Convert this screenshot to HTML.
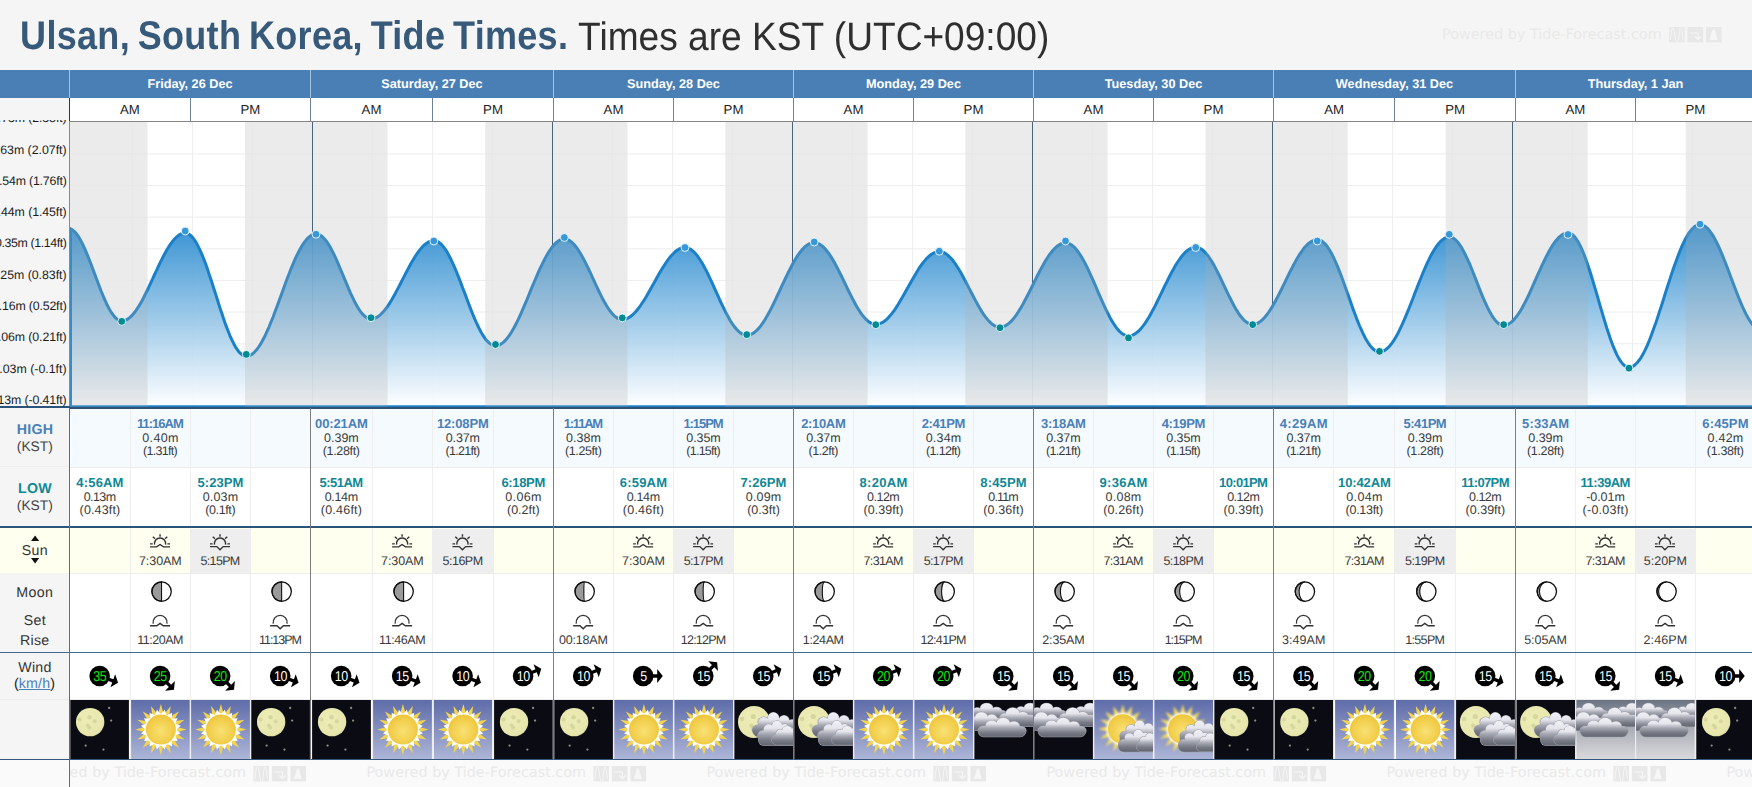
<!DOCTYPE html>
<html lang="en"><head><meta charset="utf-8"><title>Ulsan, South Korea, Tide Times</title><meta name="viewport" content="width=1752"><style>
html,body{margin:0;padding:0}
body{background:#f5f5f5;font-family:"Liberation Sans",Arial,sans-serif;overflow:hidden;text-rendering:geometricPrecision;-webkit-font-smoothing:antialiased}
#page{position:relative;width:1752px;height:787px;overflow:hidden;background:#f5f5f5}
.b{position:absolute}
.t{position:absolute;white-space:nowrap;margin:0}
.wm{font-family:"DejaVu Sans","Liberation Sans",sans-serif}
a{color:#4a80b8;text-decoration:underline}
</style></head><body><div id="page">
<div class="b" style="left:0px;top:70px;width:1752px;height:28px;background:#4a7fb5;"></div>
<div class="b" style="left:69px;top:70px;width:1px;height:28px;background:#a9c3dd;"></div>
<div class="b" style="left:310px;top:70px;width:1px;height:28px;background:#a9c3dd;"></div>
<div class="b" style="left:553px;top:70px;width:1px;height:28px;background:#a9c3dd;"></div>
<div class="b" style="left:793px;top:70px;width:1px;height:28px;background:#a9c3dd;"></div>
<div class="b" style="left:1033px;top:70px;width:1px;height:28px;background:#a9c3dd;"></div>
<div class="b" style="left:1273px;top:70px;width:1px;height:28px;background:#a9c3dd;"></div>
<div class="b" style="left:1515px;top:70px;width:1px;height:28px;background:#a9c3dd;"></div>
<div class="b" style="left:1755px;top:70px;width:1px;height:28px;background:#a9c3dd;"></div>
<div class="b" style="left:70px;top:98px;width:1682px;height:23px;background:#fff;"></div>
<div class="b" style="left:69px;top:98px;width:1px;height:23px;background:#1d3a57;"></div>
<div class="b" style="left:190px;top:98px;width:1px;height:23px;background:#6e8297;"></div>
<div class="b" style="left:310px;top:98px;width:1px;height:23px;background:#6e8297;"></div>
<div class="b" style="left:432px;top:98px;width:1px;height:23px;background:#6e8297;"></div>
<div class="b" style="left:553px;top:98px;width:1px;height:23px;background:#6e8297;"></div>
<div class="b" style="left:673px;top:98px;width:1px;height:23px;background:#6e8297;"></div>
<div class="b" style="left:793px;top:98px;width:1px;height:23px;background:#6e8297;"></div>
<div class="b" style="left:913px;top:98px;width:1px;height:23px;background:#6e8297;"></div>
<div class="b" style="left:1033px;top:98px;width:1px;height:23px;background:#6e8297;"></div>
<div class="b" style="left:1153px;top:98px;width:1px;height:23px;background:#6e8297;"></div>
<div class="b" style="left:1273px;top:98px;width:1px;height:23px;background:#6e8297;"></div>
<div class="b" style="left:1394px;top:98px;width:1px;height:23px;background:#6e8297;"></div>
<div class="b" style="left:1515px;top:98px;width:1px;height:23px;background:#6e8297;"></div>
<div class="b" style="left:1635px;top:98px;width:1px;height:23px;background:#6e8297;"></div>
<div class="b" style="left:70px;top:121px;width:1682px;height:1px;background:#858585;"></div>
<div class="b" style="left:70px;top:122px;width:1682px;height:285px;background:#fff;"></div>
<div class="b" style="left:69px;top:121px;width:1px;height:286px;background:#8a8a8a;"></div>
<div class="b" style="left:70px;top:408px;width:1682px;height:59px;background:#f5faff;"></div>
<div class="b" style="left:70px;top:467px;width:1682px;height:59px;background:#fff;"></div>
<div class="b" style="left:0px;top:527px;width:1752px;height:46px;background:#fffff0;"></div>
<div class="b" style="left:70px;top:573px;width:1682px;height:79px;background:#fff;"></div>
<div class="b" style="left:70px;top:653px;width:1682px;height:106px;background:#fff;"></div>
<div class="b" style="left:0px;top:760px;width:1752px;height:27px;background:#fafafa;"></div>
<div class="b" style="left:191px;top:529px;width:59px;height:44px;background:#eeeeee;"></div>
<div class="b" style="left:433px;top:529px;width:60px;height:44px;background:#eeeeee;"></div>
<div class="b" style="left:674px;top:529px;width:59px;height:44px;background:#eeeeee;"></div>
<div class="b" style="left:914px;top:529px;width:59px;height:44px;background:#eeeeee;"></div>
<div class="b" style="left:1154px;top:529px;width:59px;height:44px;background:#eeeeee;"></div>
<div class="b" style="left:1395px;top:529px;width:60px;height:44px;background:#eeeeee;"></div>
<div class="b" style="left:1636px;top:529px;width:59px;height:44px;background:#eeeeee;"></div>
<div class="b" style="left:70px;top:467px;width:1682px;height:1px;background:#ececec;"></div>
<div class="b" style="left:0px;top:466px;width:69px;height:1px;background:#ededed;"></div>
<div class="b" style="left:70px;top:573px;width:1682px;height:1px;background:#ececec;"></div>
<div class="b" style="left:0px;top:699px;width:1752px;height:1px;background:#ececec;"></div>
<div class="b" style="left:130px;top:408px;width:1px;height:352px;background:#eeeeee;"></div>
<div class="b" style="left:190px;top:408px;width:1px;height:352px;background:#eeeeee;"></div>
<div class="b" style="left:250px;top:408px;width:1px;height:352px;background:#eeeeee;"></div>
<div class="b" style="left:372px;top:408px;width:1px;height:352px;background:#eeeeee;"></div>
<div class="b" style="left:432px;top:408px;width:1px;height:352px;background:#eeeeee;"></div>
<div class="b" style="left:493px;top:408px;width:1px;height:352px;background:#eeeeee;"></div>
<div class="b" style="left:613px;top:408px;width:1px;height:352px;background:#eeeeee;"></div>
<div class="b" style="left:673px;top:408px;width:1px;height:352px;background:#eeeeee;"></div>
<div class="b" style="left:733px;top:408px;width:1px;height:352px;background:#eeeeee;"></div>
<div class="b" style="left:853px;top:408px;width:1px;height:352px;background:#eeeeee;"></div>
<div class="b" style="left:913px;top:408px;width:1px;height:352px;background:#eeeeee;"></div>
<div class="b" style="left:973px;top:408px;width:1px;height:352px;background:#eeeeee;"></div>
<div class="b" style="left:1093px;top:408px;width:1px;height:352px;background:#eeeeee;"></div>
<div class="b" style="left:1153px;top:408px;width:1px;height:352px;background:#eeeeee;"></div>
<div class="b" style="left:1213px;top:408px;width:1px;height:352px;background:#eeeeee;"></div>
<div class="b" style="left:1333px;top:408px;width:1px;height:352px;background:#eeeeee;"></div>
<div class="b" style="left:1394px;top:408px;width:1px;height:352px;background:#eeeeee;"></div>
<div class="b" style="left:1455px;top:408px;width:1px;height:352px;background:#eeeeee;"></div>
<div class="b" style="left:1575px;top:408px;width:1px;height:352px;background:#eeeeee;"></div>
<div class="b" style="left:1635px;top:408px;width:1px;height:352px;background:#eeeeee;"></div>
<div class="b" style="left:1695px;top:408px;width:1px;height:352px;background:#eeeeee;"></div>
<div class="b" style="left:0px;top:406px;width:70px;height:2px;background:#2c5379;"></div>
<div class="b" style="left:70px;top:407px;width:1682px;height:2px;background:#2f5174;"></div>
<div class="b" style="left:0px;top:526px;width:1752px;height:1.5px;background:#2c5379;"></div>
<div class="b" style="left:0px;top:652px;width:1752px;height:1px;background:#416a91;"></div>
<div class="b" style="left:0px;top:759px;width:1752px;height:1px;background:#34587d;"></div>
<div class="b" style="left:69px;top:408px;width:1px;height:379px;background:#6b6b6b;"></div>
<div class="b" style="left:310px;top:408px;width:1px;height:352px;background:#7d7d7d;"></div>
<div class="b" style="left:553px;top:408px;width:1px;height:352px;background:#7d7d7d;"></div>
<div class="b" style="left:793px;top:408px;width:1px;height:352px;background:#7d7d7d;"></div>
<div class="b" style="left:1033px;top:408px;width:1px;height:352px;background:#7d7d7d;"></div>
<div class="b" style="left:1273px;top:408px;width:1px;height:352px;background:#7d7d7d;"></div>
<div class="b" style="left:1515px;top:408px;width:1px;height:352px;background:#7d7d7d;"></div>
<svg class="b" style="left:70px;top:122px" width="1682" height="286" viewBox="70 122 1682 286">
<defs><linearGradient id="tg" gradientUnits="userSpaceOnUse" x1="0" y1="226" x2="0" y2="407"><stop offset="0" stop-color="#2c8cd0" stop-opacity="0.94"/><stop offset="1" stop-color="#ffffff" stop-opacity="0.94"/></linearGradient><clipPath id="cc"><rect x="70" y="122" width="1682" height="286"/></clipPath></defs>
<g clip-path="url(#cc)">
<clipPath id="dc"><rect x="147.5" y="122" width="97.5" height="285"/><rect x="387.5" y="122" width="97.7" height="285"/><rect x="627.5" y="122" width="97.8" height="285"/><rect x="867.7" y="122" width="97.7" height="285"/><rect x="1107.7" y="122" width="97.8" height="285"/><rect x="1347.7" y="122" width="98.0" height="285"/><rect x="1587.7" y="122" width="98.2" height="285"/></clipPath>
<path d="M70 153.90H1752M70 185.53H1752M70 217.16H1752M70 248.79H1752M70 280.42H1752M70 312.05H1752M70 343.68H1752M70 375.31H1752M132.50 122V407M192.50 122V407M252.50 122V407M372.50 122V407M432.50 122V407M492.50 122V407M612.50 122V407M672.50 122V407M732.50 122V407M852.50 122V407M912.50 122V407M972.50 122V407M1092.50 122V407M1152.50 122V407M1212.50 122V407M1332.50 122V407M1392.50 122V407M1452.50 122V407M1572.50 122V407M1632.50 122V407M1692.50 122V407" stroke="#fbfbfb" stroke-width="1" fill="none"/>
<path clip-path="url(#dc)" d="M70 153.90H1752M70 185.53H1752M70 217.16H1752M70 248.79H1752M70 280.42H1752M70 312.05H1752M70 343.68H1752M70 375.31H1752M132.50 122V407M192.50 122V407M252.50 122V407M372.50 122V407M432.50 122V407M492.50 122V407M612.50 122V407M672.50 122V407M732.50 122V407M852.50 122V407M912.50 122V407M972.50 122V407M1092.50 122V407M1152.50 122V407M1212.50 122V407M1332.50 122V407M1392.50 122V407M1452.50 122V407M1572.50 122V407M1632.50 122V407M1692.50 122V407" stroke="#eeeeee" stroke-width="1" fill="none"/>
<path d="M312.50 122V407M552.50 122V407M792.50 122V407M1032.50 122V407M1272.50 122V407M1512.50 122V407" stroke="#2b4a6c" stroke-width="1" fill="none"/>
<path d="M68.0 228.3L70.1 228.6L72.1 229.6L74.2 231.3L76.3 233.6L78.4 236.5L80.4 239.9L82.5 243.9L84.6 248.3L86.6 253.1L88.7 258.2L90.8 263.5L92.8 269.0L94.9 274.6L97.0 280.2L99.1 285.7L101.1 291.0L103.2 296.1L105.3 300.9L107.3 305.3L109.4 309.3L111.5 312.7L113.6 315.6L115.6 317.9L117.7 319.6L119.8 320.6L121.8 320.9L123.9 320.7L125.9 320.0L128.0 318.9L130.0 317.3L132.0 315.4L134.1 313.0L136.1 310.3L138.2 307.2L140.2 303.9L142.3 300.2L144.3 296.3L146.3 292.2L148.4 288.0L150.4 283.6L152.5 279.2L154.5 274.7L156.6 270.3L158.6 265.9L160.7 261.7L162.7 257.6L164.7 253.7L166.8 250.0L168.8 246.7L170.9 243.6L172.9 240.9L175.0 238.5L177.0 236.6L179.0 235.0L181.1 233.9L183.1 233.2L185.2 233.0L187.2 233.3L189.2 234.3L191.3 236.0L193.3 238.3L195.4 241.3L197.4 244.8L199.4 248.8L201.5 253.4L203.5 258.4L205.6 263.8L207.6 269.5L209.6 275.6L211.7 281.8L213.7 288.2L215.8 294.6L217.8 301.0L219.8 307.4L221.9 313.6L223.9 319.7L225.9 325.4L228.0 330.8L230.0 335.8L232.1 340.4L234.1 344.4L236.1 347.9L238.2 350.9L240.2 353.2L242.3 354.9L244.3 355.9L246.3 356.2L248.4 355.9L250.4 355.2L252.5 353.9L254.5 352.1L256.6 349.8L258.6 347.0L260.7 343.9L262.7 340.2L264.8 336.3L266.8 331.9L268.9 327.3L270.9 322.3L273.0 317.2L275.0 311.8L277.1 306.3L279.1 300.7L281.2 295.1L283.2 289.4L285.3 283.8L287.3 278.3L289.4 273.0L291.4 267.8L293.5 262.9L295.5 258.2L297.6 253.9L299.6 249.9L301.7 246.3L303.7 243.1L305.8 240.4L307.8 238.1L309.9 236.3L311.9 235.0L314.0 234.2L316.0 233.9L318.0 234.2L320.1 235.1L322.1 236.5L324.1 238.5L326.2 240.9L328.2 243.9L330.3 247.3L332.3 251.1L334.3 255.2L336.4 259.6L338.4 264.3L340.4 269.1L342.5 274.0L344.5 278.9L346.6 283.8L348.6 288.6L350.6 293.3L352.7 297.7L354.7 301.8L356.7 305.6L358.8 309.0L360.8 312.0L362.9 314.4L364.9 316.4L366.9 317.8L369.0 318.7L371.0 318.9L373.0 318.7L375.1 318.1L377.1 317.2L379.1 315.8L381.1 314.0L383.2 311.9L385.2 309.5L387.2 306.8L389.2 303.8L391.3 300.5L393.3 297.0L395.3 293.4L397.3 289.6L399.4 285.7L401.4 281.8L403.4 277.8L405.5 273.8L407.5 270.0L409.5 266.2L411.5 262.5L413.6 259.1L415.6 255.8L417.6 252.8L419.6 250.1L421.7 247.6L423.7 245.5L425.7 243.8L427.8 242.4L429.8 241.4L431.8 240.8L433.8 240.6L435.9 240.9L437.9 241.7L440.0 243.2L442.1 245.1L444.1 247.6L446.2 250.6L448.2 254.1L450.3 258.0L452.3 262.3L454.4 266.9L456.4 271.8L458.5 276.9L460.6 282.2L462.6 287.7L464.7 293.1L466.7 298.6L468.8 304.1L470.8 309.4L472.9 314.5L474.9 319.4L477.0 324.0L479.1 328.3L481.1 332.2L483.2 335.7L485.2 338.7L487.3 341.2L489.3 343.1L491.4 344.6L493.4 345.4L495.5 345.7L497.5 345.5L499.5 344.8L501.6 343.7L503.6 342.1L505.6 340.1L507.6 337.7L509.7 334.9L511.7 331.8L513.7 328.3L515.7 324.5L517.8 320.4L519.8 316.1L521.8 311.6L523.8 306.9L525.9 302.2L527.9 297.3L529.9 292.4L531.9 287.4L534.0 282.5L536.0 277.8L538.0 273.1L540.0 268.6L542.1 264.3L544.1 260.2L546.1 256.4L548.1 252.9L550.2 249.8L552.2 247.0L554.2 244.6L556.2 242.6L558.3 241.0L560.3 239.9L562.3 239.2L564.3 239.0L566.3 239.2L568.3 239.9L570.3 241.1L572.3 242.7L574.3 244.8L576.3 247.2L578.3 250.0L580.3 253.2L582.3 256.7L584.3 260.4L586.3 264.4L588.3 268.5L590.3 272.7L592.3 277.1L594.3 281.4L596.3 285.8L598.3 290.0L600.3 294.1L602.3 298.1L604.3 301.8L606.3 305.3L608.3 308.5L610.3 311.3L612.3 313.7L614.3 315.8L616.3 317.4L618.3 318.6L620.3 319.3L622.3 319.5L624.4 319.3L626.4 318.8L628.4 317.8L630.4 316.6L632.4 315.0L634.5 313.0L636.5 310.8L638.5 308.3L640.5 305.5L642.5 302.5L644.6 299.4L646.6 296.0L648.6 292.5L650.6 289.0L652.7 285.3L654.7 281.7L656.7 278.0L658.7 274.5L660.7 271.0L662.8 267.6L664.8 264.5L666.8 261.5L668.8 258.7L670.8 256.2L672.9 254.0L674.9 252.0L676.9 250.4L678.9 249.2L681.0 248.2L683.0 247.7L685.0 247.5L687.1 247.7L689.1 248.5L691.2 249.6L693.2 251.3L695.3 253.4L697.4 255.9L699.4 258.8L701.5 262.0L703.5 265.6L705.6 269.4L707.7 273.5L709.7 277.8L711.8 282.2L713.9 286.8L715.9 291.3L718.0 295.9L720.0 300.5L722.1 304.9L724.2 309.2L726.2 313.3L728.3 317.1L730.3 320.7L732.4 323.9L734.5 326.8L736.5 329.3L738.6 331.4L740.7 333.1L742.7 334.2L744.8 335.0L746.8 335.2L748.9 335.0L750.9 334.4L753.0 333.3L755.0 331.9L757.0 330.1L759.1 327.9L761.1 325.3L763.2 322.4L765.2 319.2L767.2 315.8L769.3 312.1L771.3 308.1L773.4 304.0L775.4 299.8L777.4 295.5L779.5 291.1L781.5 286.7L783.6 282.3L785.6 278.0L787.6 273.8L789.7 269.7L791.7 265.8L793.8 262.0L795.8 258.6L797.8 255.4L799.9 252.5L801.9 249.9L804.0 247.7L806.0 245.9L808.0 244.5L810.1 243.4L812.1 242.8L814.2 242.6L816.2 242.8L818.3 243.5L820.3 244.6L822.4 246.1L824.4 248.1L826.5 250.4L828.6 253.1L830.6 256.1L832.7 259.5L834.7 263.1L836.8 266.9L838.8 270.9L840.9 275.0L842.9 279.2L845.0 283.5L847.1 287.8L849.1 292.0L851.2 296.1L853.2 300.1L855.3 303.9L857.3 307.5L859.4 310.9L861.4 313.9L863.5 316.6L865.6 318.9L867.6 320.9L869.7 322.4L871.7 323.5L873.8 324.2L875.8 324.4L877.9 324.2L879.9 323.7L882.0 322.7L884.0 321.5L886.1 319.8L888.1 317.9L890.2 315.6L892.2 313.1L894.3 310.3L896.3 307.3L898.4 304.0L900.4 300.6L902.5 297.1L904.5 293.5L906.6 289.8L908.6 286.2L910.7 282.5L912.7 278.9L914.8 275.4L916.8 272.0L918.8 268.7L920.9 265.7L922.9 262.9L925.0 260.4L927.0 258.1L929.1 256.2L931.1 254.5L933.2 253.3L935.2 252.3L937.3 251.8L939.3 251.6L941.4 251.8L943.4 252.4L945.4 253.4L947.4 254.9L949.4 256.7L951.5 258.8L953.5 261.3L955.5 264.1L957.5 267.2L959.6 270.5L961.6 274.0L963.6 277.7L965.6 281.5L967.6 285.4L969.7 289.4L971.7 293.3L973.7 297.2L975.7 301.0L977.8 304.7L979.8 308.3L981.8 311.6L983.8 314.7L985.8 317.4L987.9 319.9L989.9 322.1L991.9 323.9L993.9 325.3L996.0 326.3L998.0 326.9L1000.0 327.1L1002.0 326.9L1004.1 326.3L1006.1 325.3L1008.2 323.9L1010.2 322.2L1012.3 320.1L1014.3 317.6L1016.4 314.8L1018.4 311.7L1020.5 308.4L1022.5 304.9L1024.6 301.1L1026.6 297.3L1028.7 293.2L1030.7 289.2L1032.8 285.0L1034.8 280.9L1036.8 276.8L1038.9 272.8L1040.9 268.9L1043.0 265.2L1045.0 261.6L1047.1 258.3L1049.1 255.2L1051.2 252.5L1053.2 250.0L1055.3 247.9L1057.3 246.1L1059.4 244.7L1061.4 243.7L1063.5 243.1L1065.5 242.9L1067.5 243.1L1069.6 243.9L1071.6 245.0L1073.6 246.7L1075.7 248.7L1077.7 251.2L1079.7 254.1L1081.8 257.4L1083.8 260.9L1085.8 264.8L1087.9 268.9L1089.9 273.3L1091.9 277.7L1094.0 282.4L1096.0 287.0L1098.0 291.8L1100.0 296.4L1102.1 301.1L1104.1 305.5L1106.1 309.9L1108.2 314.0L1110.2 317.9L1112.2 321.4L1114.3 324.7L1116.3 327.6L1118.3 330.1L1120.4 332.1L1122.4 333.8L1124.4 334.9L1126.5 335.7L1128.5 335.9L1130.5 335.7L1132.6 335.1L1134.6 334.1L1136.6 332.7L1138.7 331.0L1140.7 328.9L1142.7 326.4L1144.8 323.6L1146.8 320.6L1148.9 317.3L1150.9 313.7L1152.9 310.0L1155.0 306.1L1157.0 302.0L1159.0 297.9L1161.1 293.7L1163.1 289.4L1165.1 285.2L1167.2 281.1L1169.2 277.0L1171.2 273.1L1173.3 269.4L1175.3 265.8L1177.3 262.5L1179.4 259.5L1181.4 256.7L1183.5 254.2L1185.5 252.1L1187.5 250.4L1189.6 249.0L1191.6 248.0L1193.6 247.4L1195.7 247.2L1197.7 247.4L1199.7 248.2L1201.8 249.4L1203.8 251.0L1205.8 253.1L1207.9 255.6L1209.9 258.5L1212.0 261.7L1214.0 265.3L1216.0 269.1L1218.1 273.1L1220.1 277.2L1222.1 281.5L1224.2 285.8L1226.2 290.1L1228.2 294.4L1230.3 298.5L1232.3 302.5L1234.3 306.3L1236.4 309.9L1238.4 313.1L1240.5 316.0L1242.5 318.5L1244.5 320.6L1246.6 322.2L1248.6 323.4L1250.6 324.2L1252.7 324.4L1254.7 324.2L1256.7 323.6L1258.7 322.6L1260.8 321.2L1262.8 319.4L1264.8 317.3L1266.8 314.8L1268.8 312.0L1270.9 308.9L1272.9 305.6L1274.9 302.0L1276.9 298.3L1278.9 294.3L1281.0 290.3L1283.0 286.2L1285.0 282.1L1287.0 277.9L1289.0 273.8L1291.1 269.8L1293.1 265.8L1295.1 262.1L1297.1 258.5L1299.1 255.2L1301.2 252.1L1303.2 249.3L1305.2 246.8L1307.2 244.7L1309.2 242.9L1311.3 241.5L1313.3 240.5L1315.3 239.9L1317.3 239.7L1319.3 240.0L1321.3 240.8L1323.3 242.3L1325.4 244.2L1327.4 246.7L1329.4 249.8L1331.4 253.2L1333.4 257.1L1335.4 261.5L1337.4 266.1L1339.4 271.1L1341.4 276.3L1343.4 281.7L1345.4 287.3L1347.4 293.0L1349.4 298.6L1351.4 304.3L1353.4 309.9L1355.4 315.3L1357.4 320.5L1359.4 325.5L1361.5 330.1L1363.5 334.5L1365.5 338.4L1367.5 341.8L1369.5 344.9L1371.5 347.4L1373.5 349.3L1375.5 350.8L1377.5 351.6L1379.5 351.9L1381.6 351.7L1383.6 350.9L1385.7 349.7L1387.7 348.0L1389.8 345.9L1391.8 343.3L1393.9 340.3L1395.9 336.9L1398.0 333.2L1400.0 329.1L1402.1 324.7L1404.1 320.1L1406.2 315.2L1408.3 310.2L1410.3 305.0L1412.4 299.8L1414.4 294.4L1416.5 289.1L1418.5 283.9L1420.6 278.7L1422.6 273.7L1424.7 268.8L1426.7 264.2L1428.8 259.8L1430.8 255.7L1432.9 252.0L1435.0 248.6L1437.0 245.6L1439.1 243.0L1441.1 240.9L1443.2 239.2L1445.2 238.0L1447.3 237.2L1449.3 237.0L1451.3 237.3L1453.4 238.2L1455.4 239.7L1457.4 241.7L1459.4 244.3L1461.4 247.3L1463.4 250.9L1465.4 254.8L1467.4 259.1L1469.5 263.7L1471.5 268.5L1473.5 273.5L1475.5 278.6L1477.5 283.8L1479.5 288.9L1481.5 293.9L1483.5 298.7L1485.6 303.3L1487.6 307.6L1489.6 311.5L1491.6 315.1L1493.6 318.1L1495.6 320.7L1497.6 322.7L1499.6 324.2L1501.7 325.1L1503.7 325.4L1505.7 325.2L1507.7 324.5L1509.7 323.4L1511.7 321.9L1513.7 319.9L1515.7 317.6L1517.7 314.9L1519.8 311.9L1521.8 308.5L1523.8 304.8L1525.8 301.0L1527.8 296.8L1529.8 292.6L1531.8 288.2L1533.8 283.7L1535.8 279.1L1537.8 274.6L1539.9 270.1L1541.9 265.7L1543.9 261.5L1545.9 257.3L1547.9 253.5L1549.9 249.8L1551.9 246.4L1553.9 243.4L1555.9 240.7L1557.9 238.4L1560.0 236.4L1562.0 234.9L1564.0 233.8L1566.0 233.1L1568.0 232.9L1570.0 233.3L1572.1 234.4L1574.1 236.2L1576.1 238.7L1578.2 241.9L1580.2 245.7L1582.2 250.2L1584.3 255.2L1586.3 260.6L1588.3 266.5L1590.4 272.8L1592.4 279.4L1594.4 286.2L1596.5 293.1L1598.5 300.1L1600.5 307.2L1602.6 314.1L1604.6 320.9L1606.6 327.5L1608.7 333.8L1610.7 339.7L1612.7 345.1L1614.8 350.1L1616.8 354.6L1618.8 358.4L1620.9 361.6L1622.9 364.1L1624.9 365.9L1627.0 367.0L1629.0 367.4L1631.0 367.1L1633.1 366.3L1635.1 364.8L1637.1 362.8L1639.1 360.3L1641.2 357.3L1643.2 353.8L1645.2 349.8L1647.3 345.3L1649.3 340.5L1651.3 335.3L1653.3 329.8L1655.4 324.1L1657.4 318.1L1659.4 311.9L1661.5 305.6L1663.5 299.2L1665.5 292.8L1667.5 286.4L1669.6 280.1L1671.6 273.9L1673.6 267.9L1675.7 262.2L1677.7 256.7L1679.7 251.5L1681.7 246.7L1683.8 242.2L1685.8 238.2L1687.8 234.7L1689.9 231.7L1691.9 229.2L1693.9 227.2L1695.9 225.7L1698.0 224.9L1700.0 224.6L1702.0 224.9L1704.0 225.7L1706.0 227.0L1708.0 228.9L1710.0 231.3L1712.0 234.1L1714.0 237.4L1716.0 241.1L1718.0 245.1L1720.0 249.6L1722.0 254.2L1724.0 259.2L1726.0 264.3L1728.0 269.5L1730.0 274.9L1732.0 280.3L1734.0 285.6L1736.0 290.8L1738.0 296.0L1740.0 300.9L1742.0 305.6L1744.0 310.0L1746.0 314.1L1748.0 317.8L1750.0 321.0L1752.0 323.9L1754.0 326.2L1756.0 328.1L1758.0 329.5L1760.0 330.3L1762 407L60 407Z" fill="url(#tg)"/>
<path d="M68.0 228.3L70.1 228.6L72.1 229.6L74.2 231.3L76.3 233.6L78.4 236.5L80.4 239.9L82.5 243.9L84.6 248.3L86.6 253.1L88.7 258.2L90.8 263.5L92.8 269.0L94.9 274.6L97.0 280.2L99.1 285.7L101.1 291.0L103.2 296.1L105.3 300.9L107.3 305.3L109.4 309.3L111.5 312.7L113.6 315.6L115.6 317.9L117.7 319.6L119.8 320.6L121.8 320.9L123.9 320.7L125.9 320.0L128.0 318.9L130.0 317.3L132.0 315.4L134.1 313.0L136.1 310.3L138.2 307.2L140.2 303.9L142.3 300.2L144.3 296.3L146.3 292.2L148.4 288.0L150.4 283.6L152.5 279.2L154.5 274.7L156.6 270.3L158.6 265.9L160.7 261.7L162.7 257.6L164.7 253.7L166.8 250.0L168.8 246.7L170.9 243.6L172.9 240.9L175.0 238.5L177.0 236.6L179.0 235.0L181.1 233.9L183.1 233.2L185.2 233.0L187.2 233.3L189.2 234.3L191.3 236.0L193.3 238.3L195.4 241.3L197.4 244.8L199.4 248.8L201.5 253.4L203.5 258.4L205.6 263.8L207.6 269.5L209.6 275.6L211.7 281.8L213.7 288.2L215.8 294.6L217.8 301.0L219.8 307.4L221.9 313.6L223.9 319.7L225.9 325.4L228.0 330.8L230.0 335.8L232.1 340.4L234.1 344.4L236.1 347.9L238.2 350.9L240.2 353.2L242.3 354.9L244.3 355.9L246.3 356.2L248.4 355.9L250.4 355.2L252.5 353.9L254.5 352.1L256.6 349.8L258.6 347.0L260.7 343.9L262.7 340.2L264.8 336.3L266.8 331.9L268.9 327.3L270.9 322.3L273.0 317.2L275.0 311.8L277.1 306.3L279.1 300.7L281.2 295.1L283.2 289.4L285.3 283.8L287.3 278.3L289.4 273.0L291.4 267.8L293.5 262.9L295.5 258.2L297.6 253.9L299.6 249.9L301.7 246.3L303.7 243.1L305.8 240.4L307.8 238.1L309.9 236.3L311.9 235.0L314.0 234.2L316.0 233.9L318.0 234.2L320.1 235.1L322.1 236.5L324.1 238.5L326.2 240.9L328.2 243.9L330.3 247.3L332.3 251.1L334.3 255.2L336.4 259.6L338.4 264.3L340.4 269.1L342.5 274.0L344.5 278.9L346.6 283.8L348.6 288.6L350.6 293.3L352.7 297.7L354.7 301.8L356.7 305.6L358.8 309.0L360.8 312.0L362.9 314.4L364.9 316.4L366.9 317.8L369.0 318.7L371.0 318.9L373.0 318.7L375.1 318.1L377.1 317.2L379.1 315.8L381.1 314.0L383.2 311.9L385.2 309.5L387.2 306.8L389.2 303.8L391.3 300.5L393.3 297.0L395.3 293.4L397.3 289.6L399.4 285.7L401.4 281.8L403.4 277.8L405.5 273.8L407.5 270.0L409.5 266.2L411.5 262.5L413.6 259.1L415.6 255.8L417.6 252.8L419.6 250.1L421.7 247.6L423.7 245.5L425.7 243.8L427.8 242.4L429.8 241.4L431.8 240.8L433.8 240.6L435.9 240.9L437.9 241.7L440.0 243.2L442.1 245.1L444.1 247.6L446.2 250.6L448.2 254.1L450.3 258.0L452.3 262.3L454.4 266.9L456.4 271.8L458.5 276.9L460.6 282.2L462.6 287.7L464.7 293.1L466.7 298.6L468.8 304.1L470.8 309.4L472.9 314.5L474.9 319.4L477.0 324.0L479.1 328.3L481.1 332.2L483.2 335.7L485.2 338.7L487.3 341.2L489.3 343.1L491.4 344.6L493.4 345.4L495.5 345.7L497.5 345.5L499.5 344.8L501.6 343.7L503.6 342.1L505.6 340.1L507.6 337.7L509.7 334.9L511.7 331.8L513.7 328.3L515.7 324.5L517.8 320.4L519.8 316.1L521.8 311.6L523.8 306.9L525.9 302.2L527.9 297.3L529.9 292.4L531.9 287.4L534.0 282.5L536.0 277.8L538.0 273.1L540.0 268.6L542.1 264.3L544.1 260.2L546.1 256.4L548.1 252.9L550.2 249.8L552.2 247.0L554.2 244.6L556.2 242.6L558.3 241.0L560.3 239.9L562.3 239.2L564.3 239.0L566.3 239.2L568.3 239.9L570.3 241.1L572.3 242.7L574.3 244.8L576.3 247.2L578.3 250.0L580.3 253.2L582.3 256.7L584.3 260.4L586.3 264.4L588.3 268.5L590.3 272.7L592.3 277.1L594.3 281.4L596.3 285.8L598.3 290.0L600.3 294.1L602.3 298.1L604.3 301.8L606.3 305.3L608.3 308.5L610.3 311.3L612.3 313.7L614.3 315.8L616.3 317.4L618.3 318.6L620.3 319.3L622.3 319.5L624.4 319.3L626.4 318.8L628.4 317.8L630.4 316.6L632.4 315.0L634.5 313.0L636.5 310.8L638.5 308.3L640.5 305.5L642.5 302.5L644.6 299.4L646.6 296.0L648.6 292.5L650.6 289.0L652.7 285.3L654.7 281.7L656.7 278.0L658.7 274.5L660.7 271.0L662.8 267.6L664.8 264.5L666.8 261.5L668.8 258.7L670.8 256.2L672.9 254.0L674.9 252.0L676.9 250.4L678.9 249.2L681.0 248.2L683.0 247.7L685.0 247.5L687.1 247.7L689.1 248.5L691.2 249.6L693.2 251.3L695.3 253.4L697.4 255.9L699.4 258.8L701.5 262.0L703.5 265.6L705.6 269.4L707.7 273.5L709.7 277.8L711.8 282.2L713.9 286.8L715.9 291.3L718.0 295.9L720.0 300.5L722.1 304.9L724.2 309.2L726.2 313.3L728.3 317.1L730.3 320.7L732.4 323.9L734.5 326.8L736.5 329.3L738.6 331.4L740.7 333.1L742.7 334.2L744.8 335.0L746.8 335.2L748.9 335.0L750.9 334.4L753.0 333.3L755.0 331.9L757.0 330.1L759.1 327.9L761.1 325.3L763.2 322.4L765.2 319.2L767.2 315.8L769.3 312.1L771.3 308.1L773.4 304.0L775.4 299.8L777.4 295.5L779.5 291.1L781.5 286.7L783.6 282.3L785.6 278.0L787.6 273.8L789.7 269.7L791.7 265.8L793.8 262.0L795.8 258.6L797.8 255.4L799.9 252.5L801.9 249.9L804.0 247.7L806.0 245.9L808.0 244.5L810.1 243.4L812.1 242.8L814.2 242.6L816.2 242.8L818.3 243.5L820.3 244.6L822.4 246.1L824.4 248.1L826.5 250.4L828.6 253.1L830.6 256.1L832.7 259.5L834.7 263.1L836.8 266.9L838.8 270.9L840.9 275.0L842.9 279.2L845.0 283.5L847.1 287.8L849.1 292.0L851.2 296.1L853.2 300.1L855.3 303.9L857.3 307.5L859.4 310.9L861.4 313.9L863.5 316.6L865.6 318.9L867.6 320.9L869.7 322.4L871.7 323.5L873.8 324.2L875.8 324.4L877.9 324.2L879.9 323.7L882.0 322.7L884.0 321.5L886.1 319.8L888.1 317.9L890.2 315.6L892.2 313.1L894.3 310.3L896.3 307.3L898.4 304.0L900.4 300.6L902.5 297.1L904.5 293.5L906.6 289.8L908.6 286.2L910.7 282.5L912.7 278.9L914.8 275.4L916.8 272.0L918.8 268.7L920.9 265.7L922.9 262.9L925.0 260.4L927.0 258.1L929.1 256.2L931.1 254.5L933.2 253.3L935.2 252.3L937.3 251.8L939.3 251.6L941.4 251.8L943.4 252.4L945.4 253.4L947.4 254.9L949.4 256.7L951.5 258.8L953.5 261.3L955.5 264.1L957.5 267.2L959.6 270.5L961.6 274.0L963.6 277.7L965.6 281.5L967.6 285.4L969.7 289.4L971.7 293.3L973.7 297.2L975.7 301.0L977.8 304.7L979.8 308.3L981.8 311.6L983.8 314.7L985.8 317.4L987.9 319.9L989.9 322.1L991.9 323.9L993.9 325.3L996.0 326.3L998.0 326.9L1000.0 327.1L1002.0 326.9L1004.1 326.3L1006.1 325.3L1008.2 323.9L1010.2 322.2L1012.3 320.1L1014.3 317.6L1016.4 314.8L1018.4 311.7L1020.5 308.4L1022.5 304.9L1024.6 301.1L1026.6 297.3L1028.7 293.2L1030.7 289.2L1032.8 285.0L1034.8 280.9L1036.8 276.8L1038.9 272.8L1040.9 268.9L1043.0 265.2L1045.0 261.6L1047.1 258.3L1049.1 255.2L1051.2 252.5L1053.2 250.0L1055.3 247.9L1057.3 246.1L1059.4 244.7L1061.4 243.7L1063.5 243.1L1065.5 242.9L1067.5 243.1L1069.6 243.9L1071.6 245.0L1073.6 246.7L1075.7 248.7L1077.7 251.2L1079.7 254.1L1081.8 257.4L1083.8 260.9L1085.8 264.8L1087.9 268.9L1089.9 273.3L1091.9 277.7L1094.0 282.4L1096.0 287.0L1098.0 291.8L1100.0 296.4L1102.1 301.1L1104.1 305.5L1106.1 309.9L1108.2 314.0L1110.2 317.9L1112.2 321.4L1114.3 324.7L1116.3 327.6L1118.3 330.1L1120.4 332.1L1122.4 333.8L1124.4 334.9L1126.5 335.7L1128.5 335.9L1130.5 335.7L1132.6 335.1L1134.6 334.1L1136.6 332.7L1138.7 331.0L1140.7 328.9L1142.7 326.4L1144.8 323.6L1146.8 320.6L1148.9 317.3L1150.9 313.7L1152.9 310.0L1155.0 306.1L1157.0 302.0L1159.0 297.9L1161.1 293.7L1163.1 289.4L1165.1 285.2L1167.2 281.1L1169.2 277.0L1171.2 273.1L1173.3 269.4L1175.3 265.8L1177.3 262.5L1179.4 259.5L1181.4 256.7L1183.5 254.2L1185.5 252.1L1187.5 250.4L1189.6 249.0L1191.6 248.0L1193.6 247.4L1195.7 247.2L1197.7 247.4L1199.7 248.2L1201.8 249.4L1203.8 251.0L1205.8 253.1L1207.9 255.6L1209.9 258.5L1212.0 261.7L1214.0 265.3L1216.0 269.1L1218.1 273.1L1220.1 277.2L1222.1 281.5L1224.2 285.8L1226.2 290.1L1228.2 294.4L1230.3 298.5L1232.3 302.5L1234.3 306.3L1236.4 309.9L1238.4 313.1L1240.5 316.0L1242.5 318.5L1244.5 320.6L1246.6 322.2L1248.6 323.4L1250.6 324.2L1252.7 324.4L1254.7 324.2L1256.7 323.6L1258.7 322.6L1260.8 321.2L1262.8 319.4L1264.8 317.3L1266.8 314.8L1268.8 312.0L1270.9 308.9L1272.9 305.6L1274.9 302.0L1276.9 298.3L1278.9 294.3L1281.0 290.3L1283.0 286.2L1285.0 282.1L1287.0 277.9L1289.0 273.8L1291.1 269.8L1293.1 265.8L1295.1 262.1L1297.1 258.5L1299.1 255.2L1301.2 252.1L1303.2 249.3L1305.2 246.8L1307.2 244.7L1309.2 242.9L1311.3 241.5L1313.3 240.5L1315.3 239.9L1317.3 239.7L1319.3 240.0L1321.3 240.8L1323.3 242.3L1325.4 244.2L1327.4 246.7L1329.4 249.8L1331.4 253.2L1333.4 257.1L1335.4 261.5L1337.4 266.1L1339.4 271.1L1341.4 276.3L1343.4 281.7L1345.4 287.3L1347.4 293.0L1349.4 298.6L1351.4 304.3L1353.4 309.9L1355.4 315.3L1357.4 320.5L1359.4 325.5L1361.5 330.1L1363.5 334.5L1365.5 338.4L1367.5 341.8L1369.5 344.9L1371.5 347.4L1373.5 349.3L1375.5 350.8L1377.5 351.6L1379.5 351.9L1381.6 351.7L1383.6 350.9L1385.7 349.7L1387.7 348.0L1389.8 345.9L1391.8 343.3L1393.9 340.3L1395.9 336.9L1398.0 333.2L1400.0 329.1L1402.1 324.7L1404.1 320.1L1406.2 315.2L1408.3 310.2L1410.3 305.0L1412.4 299.8L1414.4 294.4L1416.5 289.1L1418.5 283.9L1420.6 278.7L1422.6 273.7L1424.7 268.8L1426.7 264.2L1428.8 259.8L1430.8 255.7L1432.9 252.0L1435.0 248.6L1437.0 245.6L1439.1 243.0L1441.1 240.9L1443.2 239.2L1445.2 238.0L1447.3 237.2L1449.3 237.0L1451.3 237.3L1453.4 238.2L1455.4 239.7L1457.4 241.7L1459.4 244.3L1461.4 247.3L1463.4 250.9L1465.4 254.8L1467.4 259.1L1469.5 263.7L1471.5 268.5L1473.5 273.5L1475.5 278.6L1477.5 283.8L1479.5 288.9L1481.5 293.9L1483.5 298.7L1485.6 303.3L1487.6 307.6L1489.6 311.5L1491.6 315.1L1493.6 318.1L1495.6 320.7L1497.6 322.7L1499.6 324.2L1501.7 325.1L1503.7 325.4L1505.7 325.2L1507.7 324.5L1509.7 323.4L1511.7 321.9L1513.7 319.9L1515.7 317.6L1517.7 314.9L1519.8 311.9L1521.8 308.5L1523.8 304.8L1525.8 301.0L1527.8 296.8L1529.8 292.6L1531.8 288.2L1533.8 283.7L1535.8 279.1L1537.8 274.6L1539.9 270.1L1541.9 265.7L1543.9 261.5L1545.9 257.3L1547.9 253.5L1549.9 249.8L1551.9 246.4L1553.9 243.4L1555.9 240.7L1557.9 238.4L1560.0 236.4L1562.0 234.9L1564.0 233.8L1566.0 233.1L1568.0 232.9L1570.0 233.3L1572.1 234.4L1574.1 236.2L1576.1 238.7L1578.2 241.9L1580.2 245.7L1582.2 250.2L1584.3 255.2L1586.3 260.6L1588.3 266.5L1590.4 272.8L1592.4 279.4L1594.4 286.2L1596.5 293.1L1598.5 300.1L1600.5 307.2L1602.6 314.1L1604.6 320.9L1606.6 327.5L1608.7 333.8L1610.7 339.7L1612.7 345.1L1614.8 350.1L1616.8 354.6L1618.8 358.4L1620.9 361.6L1622.9 364.1L1624.9 365.9L1627.0 367.0L1629.0 367.4L1631.0 367.1L1633.1 366.3L1635.1 364.8L1637.1 362.8L1639.1 360.3L1641.2 357.3L1643.2 353.8L1645.2 349.8L1647.3 345.3L1649.3 340.5L1651.3 335.3L1653.3 329.8L1655.4 324.1L1657.4 318.1L1659.4 311.9L1661.5 305.6L1663.5 299.2L1665.5 292.8L1667.5 286.4L1669.6 280.1L1671.6 273.9L1673.6 267.9L1675.7 262.2L1677.7 256.7L1679.7 251.5L1681.7 246.7L1683.8 242.2L1685.8 238.2L1687.8 234.7L1689.9 231.7L1691.9 229.2L1693.9 227.2L1695.9 225.7L1698.0 224.9L1700.0 224.6L1702.0 224.9L1704.0 225.7L1706.0 227.0L1708.0 228.9L1710.0 231.3L1712.0 234.1L1714.0 237.4L1716.0 241.1L1718.0 245.1L1720.0 249.6L1722.0 254.2L1724.0 259.2L1726.0 264.3L1728.0 269.5L1730.0 274.9L1732.0 280.3L1734.0 285.6L1736.0 290.8L1738.0 296.0L1740.0 300.9L1742.0 305.6L1744.0 310.0L1746.0 314.1L1748.0 317.8L1750.0 321.0L1752.0 323.9L1754.0 326.2L1756.0 328.1L1758.0 329.5L1760.0 330.3" fill="none" stroke="#1b80c8" stroke-width="3" stroke-linejoin="round"/>
<path d="M71 228.6V406.1" fill="none" stroke="#1b80c8" stroke-width="2"/>
<path d="M70 406.15H1752" fill="none" stroke="#1b80c8" stroke-width="1.9"/>
<rect x="60.0" y="122" width="87.5" height="284.7" fill="#adadad" fill-opacity="0.245"/>
<rect x="245.0" y="122" width="142.5" height="284.7" fill="#adadad" fill-opacity="0.245"/>
<rect x="485.2" y="122" width="142.3" height="284.7" fill="#adadad" fill-opacity="0.245"/>
<rect x="725.3" y="122" width="142.3" height="284.7" fill="#adadad" fill-opacity="0.245"/>
<rect x="965.3" y="122" width="142.3" height="284.7" fill="#adadad" fill-opacity="0.245"/>
<rect x="1205.5" y="122" width="142.2" height="284.7" fill="#adadad" fill-opacity="0.245"/>
<rect x="1445.7" y="122" width="142.0" height="284.7" fill="#adadad" fill-opacity="0.245"/>
<rect x="1685.8" y="122" width="71.2" height="284.7" fill="#adadad" fill-opacity="0.245"/>
<circle cx="121.8" cy="321.40" r="3.95" fill="#008b94" stroke="#fff" stroke-opacity="0.95" stroke-width="0.9"/>
<circle cx="185.2" cy="231.00" r="3.95" fill="#3498db" stroke="#fff" stroke-opacity="0.95" stroke-width="0.9"/>
<circle cx="246.3" cy="354.40" r="3.95" fill="#008b94" stroke="#fff" stroke-opacity="0.95" stroke-width="0.9"/>
<circle cx="316.0" cy="234.25" r="3.95" fill="#3498db" stroke="#fff" stroke-opacity="0.95" stroke-width="0.9"/>
<circle cx="371.0" cy="317.75" r="3.95" fill="#008b94" stroke="#fff" stroke-opacity="0.95" stroke-width="0.9"/>
<circle cx="433.8" cy="241.00" r="3.95" fill="#3498db" stroke="#fff" stroke-opacity="0.95" stroke-width="0.9"/>
<circle cx="495.5" cy="344.50" r="3.95" fill="#008b94" stroke="#fff" stroke-opacity="0.95" stroke-width="0.9"/>
<circle cx="564.3" cy="237.50" r="3.95" fill="#3498db" stroke="#fff" stroke-opacity="0.95" stroke-width="0.9"/>
<circle cx="622.3" cy="317.90" r="3.95" fill="#008b94" stroke="#fff" stroke-opacity="0.95" stroke-width="0.9"/>
<circle cx="685.0" cy="247.50" r="3.95" fill="#3498db" stroke="#fff" stroke-opacity="0.95" stroke-width="0.9"/>
<circle cx="746.8" cy="334.65" r="3.95" fill="#008b94" stroke="#fff" stroke-opacity="0.95" stroke-width="0.9"/>
<circle cx="814.2" cy="242.00" r="3.95" fill="#3498db" stroke="#fff" stroke-opacity="0.95" stroke-width="0.9"/>
<circle cx="875.8" cy="324.75" r="3.95" fill="#008b94" stroke="#fff" stroke-opacity="0.95" stroke-width="0.9"/>
<circle cx="939.3" cy="251.25" r="3.95" fill="#3498db" stroke="#fff" stroke-opacity="0.95" stroke-width="0.9"/>
<circle cx="1000.0" cy="327.75" r="3.95" fill="#008b94" stroke="#fff" stroke-opacity="0.95" stroke-width="0.9"/>
<circle cx="1065.5" cy="241.00" r="3.95" fill="#3498db" stroke="#fff" stroke-opacity="0.95" stroke-width="0.9"/>
<circle cx="1128.5" cy="337.90" r="3.95" fill="#008b94" stroke="#fff" stroke-opacity="0.95" stroke-width="0.9"/>
<circle cx="1195.7" cy="247.50" r="3.95" fill="#3498db" stroke="#fff" stroke-opacity="0.95" stroke-width="0.9"/>
<circle cx="1252.7" cy="324.65" r="3.95" fill="#008b94" stroke="#fff" stroke-opacity="0.95" stroke-width="0.9"/>
<circle cx="1317.3" cy="241.00" r="3.95" fill="#3498db" stroke="#fff" stroke-opacity="0.95" stroke-width="0.9"/>
<circle cx="1379.5" cy="351.40" r="3.95" fill="#008b94" stroke="#fff" stroke-opacity="0.95" stroke-width="0.9"/>
<circle cx="1449.3" cy="234.35" r="3.95" fill="#3498db" stroke="#fff" stroke-opacity="0.95" stroke-width="0.9"/>
<circle cx="1503.7" cy="324.65" r="3.95" fill="#008b94" stroke="#fff" stroke-opacity="0.95" stroke-width="0.9"/>
<circle cx="1568.0" cy="234.45" r="3.95" fill="#3498db" stroke="#fff" stroke-opacity="0.95" stroke-width="0.9"/>
<circle cx="1629.0" cy="368.15" r="3.95" fill="#008b94" stroke="#fff" stroke-opacity="0.95" stroke-width="0.9"/>
<circle cx="1700.0" cy="224.20" r="3.95" fill="#3498db" stroke="#fff" stroke-opacity="0.95" stroke-width="0.9"/>
</g></svg>
<svg class="b" style="left:0;top:0" width="1752" height="787" viewBox="0 0 1752 787" font-family="Liberation Sans, Arial, sans-serif">
<defs><linearGradient id="sky" x1="0" y1="0" x2="0" y2="1"><stop offset="0" stop-color="#5e6ca9"/><stop offset="1" stop-color="#adb5d7"/></linearGradient><linearGradient id="ovc" x1="0" y1="0" x2="0" y2="1"><stop offset="0" stop-color="#6b7382"/><stop offset="0.45" stop-color="#a9abb4"/><stop offset="1" stop-color="#d9d9dd"/></linearGradient><radialGradient id="sung" cx="0.5" cy="0.55" r="0.55"><stop offset="0" stop-color="#f9e175"/><stop offset="1" stop-color="#efc63a"/></radialGradient><radialGradient id="moong" cx="0.4" cy="0.4" r="0.75"><stop offset="0" stop-color="#ededb6"/><stop offset="0.75" stop-color="#e6e6ad"/><stop offset="1" stop-color="#c9c993"/></radialGradient><linearGradient id="cg" gradientUnits="userSpaceOnUse" x1="0" y1="-1.1" x2="0" y2="1"><stop offset="0" stop-color="#f2f2f7"/><stop offset="0.35" stop-color="#dcdce4"/><stop offset="1" stop-color="#6d717c"/></linearGradient><filter id="bl" x="-20%" y="-20%" width="140%" height="140%"><feGaussianBlur stdDeviation="0.9"/></filter><clipPath id="ic"><rect x="0" y="0" width="58.8" height="59"/></clipPath><linearGradient id="cg0" gradientUnits="userSpaceOnUse" x1="0" y1="12.6" x2="0" y2="37.0"><stop offset="0" stop-color="#f1f1f7"/><stop offset="0.3" stop-color="#e5e5ed"/><stop offset="0.52" stop-color="#a6a8b2"/><stop offset="0.76" stop-color="#787b86"/><stop offset="1" stop-color="#5e626d"/></linearGradient><linearGradient id="cg1" gradientUnits="userSpaceOnUse" x1="0" y1="20.6" x2="0" y2="46.0"><stop offset="0" stop-color="#f1f1f7"/><stop offset="0.3" stop-color="#e5e5ed"/><stop offset="0.52" stop-color="#a6a8b2"/><stop offset="0.76" stop-color="#787b86"/><stop offset="1" stop-color="#5e626d"/></linearGradient><linearGradient id="cg2" gradientUnits="userSpaceOnUse" x1="0" y1="26.0" x2="0" y2="45.3"><stop offset="0" stop-color="#f1f1f7"/><stop offset="0.3" stop-color="#e5e5ed"/><stop offset="0.52" stop-color="#a6a8b2"/><stop offset="0.76" stop-color="#787b86"/><stop offset="1" stop-color="#5e626d"/></linearGradient><linearGradient id="cg3" gradientUnits="userSpaceOnUse" x1="0" y1="3" x2="0" y2="21"><stop offset="0" stop-color="#f1f1f7"/><stop offset="0.3" stop-color="#e5e5ed"/><stop offset="0.52" stop-color="#a6a8b2"/><stop offset="0.76" stop-color="#787b86"/><stop offset="1" stop-color="#5e626d"/></linearGradient><linearGradient id="cg4" gradientUnits="userSpaceOnUse" x1="0" y1="12" x2="0" y2="31"><stop offset="0" stop-color="#f1f1f7"/><stop offset="0.3" stop-color="#e5e5ed"/><stop offset="0.52" stop-color="#a6a8b2"/><stop offset="0.76" stop-color="#787b86"/><stop offset="1" stop-color="#5e626d"/></linearGradient><linearGradient id="cg5" gradientUnits="userSpaceOnUse" x1="0" y1="7.6" x2="0" y2="27.2"><stop offset="0" stop-color="#f1f1f7"/><stop offset="0.3" stop-color="#e5e5ed"/><stop offset="0.52" stop-color="#a6a8b2"/><stop offset="0.76" stop-color="#787b86"/><stop offset="1" stop-color="#5e626d"/></linearGradient><linearGradient id="cg6" gradientUnits="userSpaceOnUse" x1="0" y1="17.6" x2="0" y2="37.4"><stop offset="0" stop-color="#f1f1f7"/><stop offset="0.3" stop-color="#e5e5ed"/><stop offset="0.52" stop-color="#a6a8b2"/><stop offset="0.76" stop-color="#787b86"/><stop offset="1" stop-color="#5e626d"/></linearGradient><linearGradient id="cg7" gradientUnits="userSpaceOnUse" x1="0" y1="20.6" x2="0" y2="45.5"><stop offset="0" stop-color="#f1f1f7"/><stop offset="0.3" stop-color="#e5e5ed"/><stop offset="0.52" stop-color="#a6a8b2"/><stop offset="0.76" stop-color="#787b86"/><stop offset="1" stop-color="#5e626d"/></linearGradient><linearGradient id="cg8" gradientUnits="userSpaceOnUse" x1="0" y1="29.8" x2="0" y2="52.2"><stop offset="0" stop-color="#f1f1f7"/><stop offset="0.3" stop-color="#e5e5ed"/><stop offset="0.52" stop-color="#a6a8b2"/><stop offset="0.76" stop-color="#787b86"/><stop offset="1" stop-color="#5e626d"/></linearGradient><linearGradient id="cg9" gradientUnits="userSpaceOnUse" x1="0" y1="33.2" x2="0" y2="51.9"><stop offset="0" stop-color="#f1f1f7"/><stop offset="0.3" stop-color="#e5e5ed"/><stop offset="0.52" stop-color="#a6a8b2"/><stop offset="0.76" stop-color="#787b86"/><stop offset="1" stop-color="#5e626d"/></linearGradient></defs>
<path d="M31 540.9L35.1 535.4L39.2 540.9ZM31 558L35.1 563.6L39.2 558Z" fill="#111"/>
<path d="M160.05 534.2V536.8M152.85 536.7L155.05 538.8M167.25 536.7L165.05 538.8M154.55 544.6A5.6 5.6 0 1 1 165.55 544.6M150.05 543.9H152.75M167.35 543.9H170.05M150.05 546.9H156.65L160.05 544.5L163.45 546.9H170.05" fill="none" stroke="#333" stroke-width="1.4"/>
<path d="M220.00 534.2V536.8M212.80 536.7L215.00 538.8M227.20 536.7L225.00 538.8M214.50 544.6A5.6 5.6 0 1 1 225.50 544.6M210.00 543.9H212.70M227.30 543.9H230.00M210.00 546.6H216.80L220.00 549.7L223.20 546.6H230.00" fill="none" stroke="#333" stroke-width="1.4"/>
<path d="M402.10 534.2V536.8M394.90 536.7L397.10 538.8M409.30 536.7L407.10 538.8M396.60 544.6A5.6 5.6 0 1 1 407.60 544.6M392.10 543.9H394.80M409.40 543.9H412.10M392.10 546.9H398.70L402.10 544.5L405.50 546.9H412.10" fill="none" stroke="#333" stroke-width="1.4"/>
<path d="M462.45 534.2V536.8M455.25 536.7L457.45 538.8M469.65 536.7L467.45 538.8M456.95 544.6A5.6 5.6 0 1 1 467.95 544.6M452.45 543.9H455.15M469.75 543.9H472.45M452.45 546.6H459.25L462.45 549.7L465.65 546.6H472.45" fill="none" stroke="#333" stroke-width="1.4"/>
<path d="M643.15 534.2V536.8M635.95 536.7L638.15 538.8M650.35 536.7L648.15 538.8M637.65 544.6A5.6 5.6 0 1 1 648.65 544.6M633.15 543.9H635.85M650.45 543.9H653.15M633.15 546.9H639.75L643.15 544.5L646.55 546.9H653.15" fill="none" stroke="#333" stroke-width="1.4"/>
<path d="M703.10 534.2V536.8M695.90 536.7L698.10 538.8M710.30 536.7L708.10 538.8M697.60 544.6A5.6 5.6 0 1 1 708.60 544.6M693.10 543.9H695.80M710.40 543.9H713.10M693.10 546.6H699.90L703.10 549.7L706.30 546.6H713.10" fill="none" stroke="#333" stroke-width="1.4"/>
<path d="M883.15 534.2V536.8M875.95 536.7L878.15 538.8M890.35 536.7L888.15 538.8M877.65 544.6A5.6 5.6 0 1 1 888.65 544.6M873.15 543.9H875.85M890.45 543.9H893.15M873.15 546.9H879.75L883.15 544.5L886.55 546.9H893.15" fill="none" stroke="#333" stroke-width="1.4"/>
<path d="M943.10 534.2V536.8M935.90 536.7L938.10 538.8M950.30 536.7L948.10 538.8M937.60 544.6A5.6 5.6 0 1 1 948.60 544.6M933.10 543.9H935.80M950.40 543.9H953.10M933.10 546.6H939.90L943.10 549.7L946.30 546.6H953.10" fill="none" stroke="#333" stroke-width="1.4"/>
<path d="M1123.15 534.2V536.8M1115.95 536.7L1118.15 538.8M1130.35 536.7L1128.15 538.8M1117.65 544.6A5.6 5.6 0 1 1 1128.65 544.6M1113.15 543.9H1115.85M1130.45 543.9H1133.15M1113.15 546.9H1119.75L1123.15 544.5L1126.55 546.9H1133.15" fill="none" stroke="#333" stroke-width="1.4"/>
<path d="M1183.10 534.2V536.8M1175.90 536.7L1178.10 538.8M1190.30 536.7L1188.10 538.8M1177.60 544.6A5.6 5.6 0 1 1 1188.60 544.6M1173.10 543.9H1175.80M1190.40 543.9H1193.10M1173.10 546.6H1179.90L1183.10 549.7L1186.30 546.6H1193.10" fill="none" stroke="#333" stroke-width="1.4"/>
<path d="M1364.10 534.2V536.8M1356.90 536.7L1359.10 538.8M1371.30 536.7L1369.10 538.8M1358.60 544.6A5.6 5.6 0 1 1 1369.60 544.6M1354.10 543.9H1356.80M1371.40 543.9H1374.10M1354.10 546.9H1360.70L1364.10 544.5L1367.50 546.9H1374.10" fill="none" stroke="#333" stroke-width="1.4"/>
<path d="M1424.70 534.2V536.8M1417.50 536.7L1419.70 538.8M1431.90 536.7L1429.70 538.8M1419.20 544.6A5.6 5.6 0 1 1 1430.20 544.6M1414.70 543.9H1417.40M1432.00 543.9H1434.70M1414.70 546.6H1421.50L1424.70 549.7L1427.90 546.6H1434.70" fill="none" stroke="#333" stroke-width="1.4"/>
<path d="M1605.20 534.2V536.8M1598.00 536.7L1600.20 538.8M1612.40 536.7L1610.20 538.8M1599.70 544.6A5.6 5.6 0 1 1 1610.70 544.6M1595.20 543.9H1597.90M1612.50 543.9H1615.20M1595.20 546.9H1601.80L1605.20 544.5L1608.60 546.9H1615.20" fill="none" stroke="#333" stroke-width="1.4"/>
<path d="M1664.95 534.2V536.8M1657.75 536.7L1659.95 538.8M1672.15 536.7L1669.95 538.8M1659.45 544.6A5.6 5.6 0 1 1 1670.45 544.6M1654.95 543.9H1657.65M1672.25 543.9H1674.95M1654.95 546.6H1661.75L1664.95 549.7L1668.15 546.6H1674.95" fill="none" stroke="#333" stroke-width="1.4"/>
<circle cx="161.55" cy="591.6" r="9.7" fill="#fff"/><path d="M161.55 581.90A9.7 9.7 0 0 0 161.55 601.30A0.01 9.7 0 0 1 161.55 581.90Z" fill="#9a9a9a" stroke="#111" stroke-width="1.1"/><circle cx="161.55" cy="591.6" r="9.7" fill="none" stroke="#111" stroke-width="1.3"/>
<path d="M153.15 623.6A7 7 0 1 1 166.95 623.6M150.05 625.8H156.75L160.05 623.4L163.35 625.8H170.05" fill="none" stroke="#333" stroke-width="1.4"/>
<circle cx="281.65" cy="591.6" r="9.7" fill="#fff"/><path d="M281.65 581.90A9.7 9.7 0 0 0 281.65 601.30A0.01 9.7 0 0 1 281.65 581.90Z" fill="#9a9a9a" stroke="#111" stroke-width="1.1"/><circle cx="281.65" cy="591.6" r="9.7" fill="none" stroke="#111" stroke-width="1.3"/>
<path d="M273.25 623.6A7 7 0 1 1 287.05 623.6M270.15 625.7H276.95L280.15 628.7L283.35 625.7H290.15" fill="none" stroke="#333" stroke-width="1.4"/>
<circle cx="403.60" cy="591.6" r="9.7" fill="#fff"/><path d="M403.60 581.90A9.7 9.7 0 0 0 403.60 601.30A0.01 9.7 0 0 1 403.60 581.90Z" fill="#9a9a9a" stroke="#111" stroke-width="1.1"/><circle cx="403.60" cy="591.6" r="9.7" fill="none" stroke="#111" stroke-width="1.3"/>
<path d="M395.20 623.6A7 7 0 1 1 409.00 623.6M392.10 625.8H398.80L402.10 623.4L405.40 625.8H412.10" fill="none" stroke="#333" stroke-width="1.4"/>
<circle cx="584.65" cy="591.6" r="9.7" fill="#fff"/><path d="M584.65 581.90A9.7 9.7 0 0 0 584.65 601.30A0.78 9.7 0 0 1 584.65 581.90Z" fill="#9a9a9a" stroke="#111" stroke-width="1.1"/><circle cx="584.65" cy="591.6" r="9.7" fill="none" stroke="#111" stroke-width="1.3"/>
<path d="M576.25 623.6A7 7 0 1 1 590.05 623.6M573.15 625.7H579.95L583.15 628.7L586.35 625.7H593.15" fill="none" stroke="#333" stroke-width="1.4"/>
<circle cx="704.70" cy="591.6" r="9.7" fill="#fff"/><path d="M704.70 581.90A9.7 9.7 0 0 0 704.70 601.30A1.55 9.7 0 0 1 704.70 581.90Z" fill="#9a9a9a" stroke="#111" stroke-width="1.1"/><circle cx="704.70" cy="591.6" r="9.7" fill="none" stroke="#111" stroke-width="1.3"/>
<path d="M696.30 623.6A7 7 0 1 1 710.10 623.6M693.20 625.8H699.90L703.20 623.4L706.50 625.8H713.20" fill="none" stroke="#333" stroke-width="1.4"/>
<circle cx="824.65" cy="591.6" r="9.7" fill="#fff"/><path d="M824.65 581.90A9.7 9.7 0 0 0 824.65 601.30A2.33 9.7 0 0 1 824.65 581.90Z" fill="#9a9a9a" stroke="#111" stroke-width="1.1"/><circle cx="824.65" cy="591.6" r="9.7" fill="none" stroke="#111" stroke-width="1.3"/>
<path d="M816.25 623.6A7 7 0 1 1 830.05 623.6M813.15 625.7H819.95L823.15 628.7L826.35 625.7H833.15" fill="none" stroke="#333" stroke-width="1.4"/>
<circle cx="944.70" cy="591.6" r="9.7" fill="#fff"/><path d="M944.70 581.90A9.7 9.7 0 0 0 944.70 601.30A3.10 9.7 0 0 1 944.70 581.90Z" fill="#9a9a9a" stroke="#111" stroke-width="1.1"/><circle cx="944.70" cy="591.6" r="9.7" fill="none" stroke="#111" stroke-width="1.3"/>
<path d="M936.30 623.6A7 7 0 1 1 950.10 623.6M933.20 625.8H939.90L943.20 623.4L946.50 625.8H953.20" fill="none" stroke="#333" stroke-width="1.4"/>
<circle cx="1064.65" cy="591.6" r="9.7" fill="#fff"/><path d="M1064.65 581.90A9.7 9.7 0 0 0 1064.65 601.30A4.27 9.7 0 0 1 1064.65 581.90Z" fill="#9a9a9a" stroke="#111" stroke-width="1.1"/><circle cx="1064.65" cy="591.6" r="9.7" fill="none" stroke="#111" stroke-width="1.3"/>
<path d="M1056.25 623.6A7 7 0 1 1 1070.05 623.6M1053.15 625.7H1059.95L1063.15 628.7L1066.35 625.7H1073.15" fill="none" stroke="#333" stroke-width="1.4"/>
<circle cx="1184.70" cy="591.6" r="9.7" fill="#fff"/><path d="M1184.70 581.90A9.7 9.7 0 0 0 1184.70 601.30A5.04 9.7 0 0 1 1184.70 581.90Z" fill="#9a9a9a" stroke="#111" stroke-width="1.1"/><circle cx="1184.70" cy="591.6" r="9.7" fill="none" stroke="#111" stroke-width="1.3"/>
<path d="M1176.30 623.6A7 7 0 1 1 1190.10 623.6M1173.20 625.8H1179.90L1183.20 623.4L1186.50 625.8H1193.20" fill="none" stroke="#333" stroke-width="1.4"/>
<circle cx="1304.90" cy="591.6" r="9.7" fill="#fff"/><path d="M1304.90 581.90A9.7 9.7 0 0 0 1304.90 601.30A5.82 9.7 0 0 1 1304.90 581.90Z" fill="#9a9a9a" stroke="#111" stroke-width="1.1"/><circle cx="1304.90" cy="591.6" r="9.7" fill="none" stroke="#111" stroke-width="1.3"/>
<path d="M1296.50 623.6A7 7 0 1 1 1310.30 623.6M1293.40 625.7H1300.20L1303.40 628.7L1306.60 625.7H1313.40" fill="none" stroke="#333" stroke-width="1.4"/>
<circle cx="1426.30" cy="591.6" r="9.7" fill="#fff"/><path d="M1426.30 581.90A9.7 9.7 0 0 0 1426.30 601.30A6.60 9.7 0 0 1 1426.30 581.90Z" fill="#9a9a9a" stroke="#111" stroke-width="1.1"/><circle cx="1426.30" cy="591.6" r="9.7" fill="none" stroke="#111" stroke-width="1.3"/>
<path d="M1417.90 623.6A7 7 0 1 1 1431.70 623.6M1414.80 625.8H1421.50L1424.80 623.4L1428.10 625.8H1434.80" fill="none" stroke="#333" stroke-width="1.4"/>
<circle cx="1546.80" cy="591.6" r="9.7" fill="#fff"/><path d="M1546.80 581.90A9.7 9.7 0 0 0 1546.80 601.30A7.37 9.7 0 0 1 1546.80 581.90Z" fill="#9a9a9a" stroke="#111" stroke-width="1.1"/><circle cx="1546.80" cy="591.6" r="9.7" fill="none" stroke="#111" stroke-width="1.3"/>
<path d="M1538.40 623.6A7 7 0 1 1 1552.20 623.6M1535.30 625.7H1542.10L1545.30 628.7L1548.50 625.7H1555.30" fill="none" stroke="#333" stroke-width="1.4"/>
<circle cx="1666.55" cy="591.6" r="9.7" fill="#fff"/><path d="M1666.55 581.90A9.7 9.7 0 0 0 1666.55 601.30A7.95 9.7 0 0 1 1666.55 581.90Z" fill="#9a9a9a" stroke="#111" stroke-width="1.1"/><circle cx="1666.55" cy="591.6" r="9.7" fill="none" stroke="#111" stroke-width="1.3"/>
<path d="M1658.15 623.6A7 7 0 1 1 1671.95 623.6M1655.05 625.8H1661.75L1665.05 623.4L1668.35 625.8H1675.05" fill="none" stroke="#333" stroke-width="1.4"/>
<g transform="translate(99.65 676.0)"><circle r="10.3" fill="#000"/><path transform="rotate(20)" d="M8 -1.7H14V-6.9L19.6 0L14 6.9V1.7H8Z" fill="#000"/><text transform="scale(0.87 1)" x="0.2" y="5.0" text-anchor="middle" font-size="14.3" fill="#0ee60e" letter-spacing="-0.5">35</text></g>
<g transform="translate(160.10 676.0)"><circle r="10.3" fill="#000"/><path transform="rotate(45)" d="M8 -1.7H14V-6.9L19.6 0L14 6.9V1.7H8Z" fill="#000"/><text transform="scale(0.87 1)" x="0.2" y="5.0" text-anchor="middle" font-size="14.3" fill="#0ee60e" letter-spacing="-0.5">25</text></g>
<g transform="translate(220.15 676.0)"><circle r="10.3" fill="#000"/><path transform="rotate(45)" d="M8 -1.7H14V-6.9L19.6 0L14 6.9V1.7H8Z" fill="#000"/><text transform="scale(0.87 1)" x="0.2" y="5.0" text-anchor="middle" font-size="14.3" fill="#0ee60e" letter-spacing="-0.5">20</text></g>
<g transform="translate(280.20 676.0)"><circle r="10.3" fill="#000"/><path transform="rotate(20)" d="M8 -1.7H14V-6.9L19.6 0L14 6.9V1.7H8Z" fill="#000"/><text transform="scale(0.87 1)" x="0.2" y="5.0" text-anchor="middle" font-size="14.3" fill="#fff" letter-spacing="-0.5">10</text></g>
<g transform="translate(341.15 676.0)"><circle r="10.3" fill="#000"/><path transform="rotate(20)" d="M8 -1.7H14V-6.9L19.6 0L14 6.9V1.7H8Z" fill="#000"/><text transform="scale(0.87 1)" x="0.2" y="5.0" text-anchor="middle" font-size="14.3" fill="#fff" letter-spacing="-0.5">10</text></g>
<g transform="translate(402.15 676.0)"><circle r="10.3" fill="#000"/><path transform="rotate(20)" d="M8 -1.7H14V-6.9L19.6 0L14 6.9V1.7H8Z" fill="#000"/><text transform="scale(0.87 1)" x="0.2" y="5.0" text-anchor="middle" font-size="14.3" fill="#fff" letter-spacing="-0.5">15</text></g>
<g transform="translate(462.60 676.0)"><circle r="10.3" fill="#000"/><path transform="rotate(20)" d="M8 -1.7H14V-6.9L19.6 0L14 6.9V1.7H8Z" fill="#000"/><text transform="scale(0.87 1)" x="0.2" y="5.0" text-anchor="middle" font-size="14.3" fill="#fff" letter-spacing="-0.5">10</text></g>
<g transform="translate(523.10 676.0)"><circle r="10.3" fill="#000"/><path transform="rotate(-22)" d="M8 -1.7H14V-6.9L19.6 0L14 6.9V1.7H8Z" fill="#000"/><text transform="scale(0.87 1)" x="0.2" y="5.0" text-anchor="middle" font-size="14.3" fill="#fff" letter-spacing="-0.5">10</text></g>
<g transform="translate(583.20 676.0)"><circle r="10.3" fill="#000"/><path transform="rotate(-22)" d="M8 -1.7H14V-6.9L19.6 0L14 6.9V1.7H8Z" fill="#000"/><text transform="scale(0.87 1)" x="0.2" y="5.0" text-anchor="middle" font-size="14.3" fill="#fff" letter-spacing="-0.5">10</text></g>
<g transform="translate(643.20 676.0)"><circle r="10.3" fill="#000"/><path transform="rotate(0)" d="M8 -1.7H14V-6.9L19.6 0L14 6.9V1.7H8Z" fill="#000"/><text transform="scale(0.87 1)" x="0.2" y="5.0" text-anchor="middle" font-size="14.3" fill="#fff" letter-spacing="-0.5">5</text></g>
<g transform="translate(703.25 676.0)"><circle r="10.3" fill="#000"/><path transform="rotate(-45)" d="M8 -1.7H14V-6.9L19.6 0L14 6.9V1.7H8Z" fill="#000"/><text transform="scale(0.87 1)" x="0.2" y="5.0" text-anchor="middle" font-size="14.3" fill="#fff" letter-spacing="-0.5">15</text></g>
<g transform="translate(763.25 676.0)"><circle r="10.3" fill="#000"/><path transform="rotate(-22)" d="M8 -1.7H14V-6.9L19.6 0L14 6.9V1.7H8Z" fill="#000"/><text transform="scale(0.87 1)" x="0.2" y="5.0" text-anchor="middle" font-size="14.3" fill="#fff" letter-spacing="-0.5">15</text></g>
<g transform="translate(823.20 676.0)"><circle r="10.3" fill="#000"/><path transform="rotate(-22)" d="M8 -1.7H14V-6.9L19.6 0L14 6.9V1.7H8Z" fill="#000"/><text transform="scale(0.87 1)" x="0.2" y="5.0" text-anchor="middle" font-size="14.3" fill="#fff" letter-spacing="-0.5">15</text></g>
<g transform="translate(883.20 676.0)"><circle r="10.3" fill="#000"/><path transform="rotate(-22)" d="M8 -1.7H14V-6.9L19.6 0L14 6.9V1.7H8Z" fill="#000"/><text transform="scale(0.87 1)" x="0.2" y="5.0" text-anchor="middle" font-size="14.3" fill="#0ee60e" letter-spacing="-0.5">20</text></g>
<g transform="translate(943.25 676.0)"><circle r="10.3" fill="#000"/><path transform="rotate(-22)" d="M8 -1.7H14V-6.9L19.6 0L14 6.9V1.7H8Z" fill="#000"/><text transform="scale(0.87 1)" x="0.2" y="5.0" text-anchor="middle" font-size="14.3" fill="#0ee60e" letter-spacing="-0.5">20</text></g>
<g transform="translate(1003.25 676.0)"><circle r="10.3" fill="#000"/><path transform="rotate(45)" d="M8 -1.7H14V-6.9L19.6 0L14 6.9V1.7H8Z" fill="#000"/><text transform="scale(0.87 1)" x="0.2" y="5.0" text-anchor="middle" font-size="14.3" fill="#fff" letter-spacing="-0.5">15</text></g>
<g transform="translate(1063.20 676.0)"><circle r="10.3" fill="#000"/><path transform="rotate(45)" d="M8 -1.7H14V-6.9L19.6 0L14 6.9V1.7H8Z" fill="#000"/><text transform="scale(0.87 1)" x="0.2" y="5.0" text-anchor="middle" font-size="14.3" fill="#fff" letter-spacing="-0.5">15</text></g>
<g transform="translate(1123.20 676.0)"><circle r="10.3" fill="#000"/><path transform="rotate(45)" d="M8 -1.7H14V-6.9L19.6 0L14 6.9V1.7H8Z" fill="#000"/><text transform="scale(0.87 1)" x="0.2" y="5.0" text-anchor="middle" font-size="14.3" fill="#fff" letter-spacing="-0.5">15</text></g>
<g transform="translate(1183.25 676.0)"><circle r="10.3" fill="#000"/><path transform="rotate(45)" d="M8 -1.7H14V-6.9L19.6 0L14 6.9V1.7H8Z" fill="#000"/><text transform="scale(0.87 1)" x="0.2" y="5.0" text-anchor="middle" font-size="14.3" fill="#0ee60e" letter-spacing="-0.5">20</text></g>
<g transform="translate(1243.25 676.0)"><circle r="10.3" fill="#000"/><path transform="rotate(45)" d="M8 -1.7H14V-6.9L19.6 0L14 6.9V1.7H8Z" fill="#000"/><text transform="scale(0.87 1)" x="0.2" y="5.0" text-anchor="middle" font-size="14.3" fill="#fff" letter-spacing="-0.5">15</text></g>
<g transform="translate(1303.45 676.0)"><circle r="10.3" fill="#000"/><path transform="rotate(45)" d="M8 -1.7H14V-6.9L19.6 0L14 6.9V1.7H8Z" fill="#000"/><text transform="scale(0.87 1)" x="0.2" y="5.0" text-anchor="middle" font-size="14.3" fill="#fff" letter-spacing="-0.5">15</text></g>
<g transform="translate(1364.15 676.0)"><circle r="10.3" fill="#000"/><path transform="rotate(45)" d="M8 -1.7H14V-6.9L19.6 0L14 6.9V1.7H8Z" fill="#000"/><text transform="scale(0.87 1)" x="0.2" y="5.0" text-anchor="middle" font-size="14.3" fill="#0ee60e" letter-spacing="-0.5">20</text></g>
<g transform="translate(1424.85 676.0)"><circle r="10.3" fill="#000"/><path transform="rotate(45)" d="M8 -1.7H14V-6.9L19.6 0L14 6.9V1.7H8Z" fill="#000"/><text transform="scale(0.87 1)" x="0.2" y="5.0" text-anchor="middle" font-size="14.3" fill="#0ee60e" letter-spacing="-0.5">20</text></g>
<g transform="translate(1485.15 676.0)"><circle r="10.3" fill="#000"/><path transform="rotate(20)" d="M8 -1.7H14V-6.9L19.6 0L14 6.9V1.7H8Z" fill="#000"/><text transform="scale(0.87 1)" x="0.2" y="5.0" text-anchor="middle" font-size="14.3" fill="#fff" letter-spacing="-0.5">15</text></g>
<g transform="translate(1545.35 676.0)"><circle r="10.3" fill="#000"/><path transform="rotate(20)" d="M8 -1.7H14V-6.9L19.6 0L14 6.9V1.7H8Z" fill="#000"/><text transform="scale(0.87 1)" x="0.2" y="5.0" text-anchor="middle" font-size="14.3" fill="#fff" letter-spacing="-0.5">15</text></g>
<g transform="translate(1605.25 676.0)"><circle r="10.3" fill="#000"/><path transform="rotate(45)" d="M8 -1.7H14V-6.9L19.6 0L14 6.9V1.7H8Z" fill="#000"/><text transform="scale(0.87 1)" x="0.2" y="5.0" text-anchor="middle" font-size="14.3" fill="#fff" letter-spacing="-0.5">15</text></g>
<g transform="translate(1665.10 676.0)"><circle r="10.3" fill="#000"/><path transform="rotate(20)" d="M8 -1.7H14V-6.9L19.6 0L14 6.9V1.7H8Z" fill="#000"/><text transform="scale(0.87 1)" x="0.2" y="5.0" text-anchor="middle" font-size="14.3" fill="#fff" letter-spacing="-0.5">15</text></g>
<g transform="translate(1725.20 676.0)"><circle r="10.3" fill="#000"/><path transform="rotate(0)" d="M8 -1.7H14V-6.9L19.6 0L14 6.9V1.7H8Z" fill="#000"/><text transform="scale(0.87 1)" x="0.2" y="5.0" text-anchor="middle" font-size="14.3" fill="#fff" letter-spacing="-0.5">10</text></g>
<g transform="translate(70.15 700)" clip-path="url(#ic)"><rect width="58.8" height="59" fill="#0b0c13"/><circle cx="20" cy="22.1" r="14.2" fill="url(#moong)"/><circle cx="19.40" cy="17.20" r="2.30" fill="#d6d69f"/><circle cx="24.60" cy="21.30" r="2.00" fill="#d6d69f"/><circle cx="9.50" cy="19.50" r="2.00" fill="#d6d69f"/><circle cx="17.50" cy="25.30" r="1.80" fill="#d6d69f"/><circle cx="19.00" cy="27.50" r="2.00" fill="#d6d69f"/><circle cx="39" cy="8" r="1.15" fill="#8c8c84"/><circle cx="41" cy="20.6" r="1.15" fill="#8c8c84"/><circle cx="15.5" cy="45.6" r="1.15" fill="#8c8c84"/><circle cx="33.3" cy="49.6" r="1.15" fill="#8c8c84"/></g>
<g transform="translate(131.05 700)" clip-path="url(#ic)"><rect width="58.8" height="59" fill="url(#sky)"/><path d="M26.95 14.36L29.80 4.00L32.65 14.36ZM33.00 14.43L39.60 5.95L38.26 16.62ZM38.56 16.81L47.90 11.50L42.59 20.84ZM42.78 21.14L53.45 19.80L44.97 26.40ZM45.04 26.75L55.40 29.60L45.04 32.45ZM44.97 32.80L53.45 39.40L42.78 38.06ZM42.59 38.36L47.90 47.70L38.56 42.39ZM38.26 42.58L39.60 53.25L33.00 44.77ZM32.65 44.84L29.80 55.20L26.95 44.84ZM26.60 44.77L20.00 53.25L21.34 42.58ZM21.04 42.39L11.70 47.70L17.01 38.36ZM16.82 38.06L6.15 39.40L14.63 32.80ZM14.56 32.45L4.20 29.60L14.56 26.75ZM14.63 26.40L6.15 19.80L16.82 21.14ZM17.01 20.84L11.70 11.50L21.04 16.81ZM21.34 16.62L20.00 5.95L26.60 14.43Z" fill="#f2d44f"/><path d="M30.00 14.10L33.76 9.69L35.54 15.20ZM35.92 15.36L41.08 12.72L40.62 18.50ZM40.90 18.78L46.68 18.32L44.04 23.48ZM44.20 23.86L49.71 25.64L45.30 29.40ZM45.30 29.80L49.71 33.56L44.20 35.34ZM44.04 35.72L46.68 40.88L40.90 40.42ZM40.62 40.70L41.08 46.48L35.92 43.84ZM35.54 44.00L33.76 49.51L30.00 45.10ZM29.60 45.10L25.84 49.51L24.06 44.00ZM23.68 43.84L18.52 46.48L18.98 40.70ZM18.70 40.42L12.92 40.88L15.56 35.72ZM15.40 35.34L9.89 33.56L14.30 29.80ZM14.30 29.40L9.89 25.64L15.40 23.86ZM15.56 23.48L12.92 18.32L18.70 18.78ZM18.98 18.50L18.52 12.72L23.68 15.36ZM24.06 15.20L25.84 9.69L29.60 14.10Z" fill="#fff"/><circle cx="29.8" cy="29.6" r="16.2" fill="#fff"/><circle cx="29.8" cy="29.6" r="15" fill="url(#sung)"/></g>
<g transform="translate(191.10 700)" clip-path="url(#ic)"><rect width="58.8" height="59" fill="url(#sky)"/><path d="M26.95 14.36L29.80 4.00L32.65 14.36ZM33.00 14.43L39.60 5.95L38.26 16.62ZM38.56 16.81L47.90 11.50L42.59 20.84ZM42.78 21.14L53.45 19.80L44.97 26.40ZM45.04 26.75L55.40 29.60L45.04 32.45ZM44.97 32.80L53.45 39.40L42.78 38.06ZM42.59 38.36L47.90 47.70L38.56 42.39ZM38.26 42.58L39.60 53.25L33.00 44.77ZM32.65 44.84L29.80 55.20L26.95 44.84ZM26.60 44.77L20.00 53.25L21.34 42.58ZM21.04 42.39L11.70 47.70L17.01 38.36ZM16.82 38.06L6.15 39.40L14.63 32.80ZM14.56 32.45L4.20 29.60L14.56 26.75ZM14.63 26.40L6.15 19.80L16.82 21.14ZM17.01 20.84L11.70 11.50L21.04 16.81ZM21.34 16.62L20.00 5.95L26.60 14.43Z" fill="#f2d44f"/><path d="M30.00 14.10L33.76 9.69L35.54 15.20ZM35.92 15.36L41.08 12.72L40.62 18.50ZM40.90 18.78L46.68 18.32L44.04 23.48ZM44.20 23.86L49.71 25.64L45.30 29.40ZM45.30 29.80L49.71 33.56L44.20 35.34ZM44.04 35.72L46.68 40.88L40.90 40.42ZM40.62 40.70L41.08 46.48L35.92 43.84ZM35.54 44.00L33.76 49.51L30.00 45.10ZM29.60 45.10L25.84 49.51L24.06 44.00ZM23.68 43.84L18.52 46.48L18.98 40.70ZM18.70 40.42L12.92 40.88L15.56 35.72ZM15.40 35.34L9.89 33.56L14.30 29.80ZM14.30 29.40L9.89 25.64L15.40 23.86ZM15.56 23.48L12.92 18.32L18.70 18.78ZM18.98 18.50L18.52 12.72L23.68 15.36ZM24.06 15.20L25.84 9.69L29.60 14.10Z" fill="#fff"/><circle cx="29.8" cy="29.6" r="16.2" fill="#fff"/><circle cx="29.8" cy="29.6" r="15" fill="url(#sung)"/></g>
<g transform="translate(251.15 700)" clip-path="url(#ic)"><rect width="58.8" height="59" fill="#0b0c13"/><circle cx="20" cy="22.1" r="14.2" fill="url(#moong)"/><circle cx="19.40" cy="17.20" r="2.30" fill="#d6d69f"/><circle cx="24.60" cy="21.30" r="2.00" fill="#d6d69f"/><circle cx="9.50" cy="19.50" r="2.00" fill="#d6d69f"/><circle cx="17.50" cy="25.30" r="1.80" fill="#d6d69f"/><circle cx="19.00" cy="27.50" r="2.00" fill="#d6d69f"/><circle cx="39" cy="8" r="1.15" fill="#8c8c84"/><circle cx="41" cy="20.6" r="1.15" fill="#8c8c84"/><circle cx="15.5" cy="45.6" r="1.15" fill="#8c8c84"/><circle cx="33.3" cy="49.6" r="1.15" fill="#8c8c84"/></g>
<g transform="translate(312.10 700)" clip-path="url(#ic)"><rect width="58.8" height="59" fill="#0b0c13"/><circle cx="20" cy="22.1" r="14.2" fill="url(#moong)"/><circle cx="19.40" cy="17.20" r="2.30" fill="#d6d69f"/><circle cx="24.60" cy="21.30" r="2.00" fill="#d6d69f"/><circle cx="9.50" cy="19.50" r="2.00" fill="#d6d69f"/><circle cx="17.50" cy="25.30" r="1.80" fill="#d6d69f"/><circle cx="19.00" cy="27.50" r="2.00" fill="#d6d69f"/><circle cx="39" cy="8" r="1.15" fill="#8c8c84"/><circle cx="41" cy="20.6" r="1.15" fill="#8c8c84"/><circle cx="15.5" cy="45.6" r="1.15" fill="#8c8c84"/><circle cx="33.3" cy="49.6" r="1.15" fill="#8c8c84"/></g>
<g transform="translate(373.10 700)" clip-path="url(#ic)"><rect width="58.8" height="59" fill="url(#sky)"/><path d="M26.95 14.36L29.80 4.00L32.65 14.36ZM33.00 14.43L39.60 5.95L38.26 16.62ZM38.56 16.81L47.90 11.50L42.59 20.84ZM42.78 21.14L53.45 19.80L44.97 26.40ZM45.04 26.75L55.40 29.60L45.04 32.45ZM44.97 32.80L53.45 39.40L42.78 38.06ZM42.59 38.36L47.90 47.70L38.56 42.39ZM38.26 42.58L39.60 53.25L33.00 44.77ZM32.65 44.84L29.80 55.20L26.95 44.84ZM26.60 44.77L20.00 53.25L21.34 42.58ZM21.04 42.39L11.70 47.70L17.01 38.36ZM16.82 38.06L6.15 39.40L14.63 32.80ZM14.56 32.45L4.20 29.60L14.56 26.75ZM14.63 26.40L6.15 19.80L16.82 21.14ZM17.01 20.84L11.70 11.50L21.04 16.81ZM21.34 16.62L20.00 5.95L26.60 14.43Z" fill="#f2d44f"/><path d="M30.00 14.10L33.76 9.69L35.54 15.20ZM35.92 15.36L41.08 12.72L40.62 18.50ZM40.90 18.78L46.68 18.32L44.04 23.48ZM44.20 23.86L49.71 25.64L45.30 29.40ZM45.30 29.80L49.71 33.56L44.20 35.34ZM44.04 35.72L46.68 40.88L40.90 40.42ZM40.62 40.70L41.08 46.48L35.92 43.84ZM35.54 44.00L33.76 49.51L30.00 45.10ZM29.60 45.10L25.84 49.51L24.06 44.00ZM23.68 43.84L18.52 46.48L18.98 40.70ZM18.70 40.42L12.92 40.88L15.56 35.72ZM15.40 35.34L9.89 33.56L14.30 29.80ZM14.30 29.40L9.89 25.64L15.40 23.86ZM15.56 23.48L12.92 18.32L18.70 18.78ZM18.98 18.50L18.52 12.72L23.68 15.36ZM24.06 15.20L25.84 9.69L29.60 14.10Z" fill="#fff"/><circle cx="29.8" cy="29.6" r="16.2" fill="#fff"/><circle cx="29.8" cy="29.6" r="15" fill="url(#sung)"/></g>
<g transform="translate(433.55 700)" clip-path="url(#ic)"><rect width="58.8" height="59" fill="url(#sky)"/><path d="M26.95 14.36L29.80 4.00L32.65 14.36ZM33.00 14.43L39.60 5.95L38.26 16.62ZM38.56 16.81L47.90 11.50L42.59 20.84ZM42.78 21.14L53.45 19.80L44.97 26.40ZM45.04 26.75L55.40 29.60L45.04 32.45ZM44.97 32.80L53.45 39.40L42.78 38.06ZM42.59 38.36L47.90 47.70L38.56 42.39ZM38.26 42.58L39.60 53.25L33.00 44.77ZM32.65 44.84L29.80 55.20L26.95 44.84ZM26.60 44.77L20.00 53.25L21.34 42.58ZM21.04 42.39L11.70 47.70L17.01 38.36ZM16.82 38.06L6.15 39.40L14.63 32.80ZM14.56 32.45L4.20 29.60L14.56 26.75ZM14.63 26.40L6.15 19.80L16.82 21.14ZM17.01 20.84L11.70 11.50L21.04 16.81ZM21.34 16.62L20.00 5.95L26.60 14.43Z" fill="#f2d44f"/><path d="M30.00 14.10L33.76 9.69L35.54 15.20ZM35.92 15.36L41.08 12.72L40.62 18.50ZM40.90 18.78L46.68 18.32L44.04 23.48ZM44.20 23.86L49.71 25.64L45.30 29.40ZM45.30 29.80L49.71 33.56L44.20 35.34ZM44.04 35.72L46.68 40.88L40.90 40.42ZM40.62 40.70L41.08 46.48L35.92 43.84ZM35.54 44.00L33.76 49.51L30.00 45.10ZM29.60 45.10L25.84 49.51L24.06 44.00ZM23.68 43.84L18.52 46.48L18.98 40.70ZM18.70 40.42L12.92 40.88L15.56 35.72ZM15.40 35.34L9.89 33.56L14.30 29.80ZM14.30 29.40L9.89 25.64L15.40 23.86ZM15.56 23.48L12.92 18.32L18.70 18.78ZM18.98 18.50L18.52 12.72L23.68 15.36ZM24.06 15.20L25.84 9.69L29.60 14.10Z" fill="#fff"/><circle cx="29.8" cy="29.6" r="16.2" fill="#fff"/><circle cx="29.8" cy="29.6" r="15" fill="url(#sung)"/></g>
<g transform="translate(494.05 700)" clip-path="url(#ic)"><rect width="58.8" height="59" fill="#0b0c13"/><circle cx="20" cy="22.1" r="14.2" fill="url(#moong)"/><circle cx="19.40" cy="17.20" r="2.30" fill="#d6d69f"/><circle cx="24.60" cy="21.30" r="2.00" fill="#d6d69f"/><circle cx="9.50" cy="19.50" r="2.00" fill="#d6d69f"/><circle cx="17.50" cy="25.30" r="1.80" fill="#d6d69f"/><circle cx="19.00" cy="27.50" r="2.00" fill="#d6d69f"/><circle cx="39" cy="8" r="1.15" fill="#8c8c84"/><circle cx="41" cy="20.6" r="1.15" fill="#8c8c84"/><circle cx="15.5" cy="45.6" r="1.15" fill="#8c8c84"/><circle cx="33.3" cy="49.6" r="1.15" fill="#8c8c84"/></g>
<g transform="translate(554.15 700)" clip-path="url(#ic)"><rect width="58.8" height="59" fill="#0b0c13"/><circle cx="20" cy="22.1" r="14.2" fill="url(#moong)"/><circle cx="19.40" cy="17.20" r="2.30" fill="#d6d69f"/><circle cx="24.60" cy="21.30" r="2.00" fill="#d6d69f"/><circle cx="9.50" cy="19.50" r="2.00" fill="#d6d69f"/><circle cx="17.50" cy="25.30" r="1.80" fill="#d6d69f"/><circle cx="19.00" cy="27.50" r="2.00" fill="#d6d69f"/><circle cx="39" cy="8" r="1.15" fill="#8c8c84"/><circle cx="41" cy="20.6" r="1.15" fill="#8c8c84"/><circle cx="15.5" cy="45.6" r="1.15" fill="#8c8c84"/><circle cx="33.3" cy="49.6" r="1.15" fill="#8c8c84"/></g>
<g transform="translate(614.15 700)" clip-path="url(#ic)"><rect width="58.8" height="59" fill="url(#sky)"/><path d="M26.95 14.36L29.80 4.00L32.65 14.36ZM33.00 14.43L39.60 5.95L38.26 16.62ZM38.56 16.81L47.90 11.50L42.59 20.84ZM42.78 21.14L53.45 19.80L44.97 26.40ZM45.04 26.75L55.40 29.60L45.04 32.45ZM44.97 32.80L53.45 39.40L42.78 38.06ZM42.59 38.36L47.90 47.70L38.56 42.39ZM38.26 42.58L39.60 53.25L33.00 44.77ZM32.65 44.84L29.80 55.20L26.95 44.84ZM26.60 44.77L20.00 53.25L21.34 42.58ZM21.04 42.39L11.70 47.70L17.01 38.36ZM16.82 38.06L6.15 39.40L14.63 32.80ZM14.56 32.45L4.20 29.60L14.56 26.75ZM14.63 26.40L6.15 19.80L16.82 21.14ZM17.01 20.84L11.70 11.50L21.04 16.81ZM21.34 16.62L20.00 5.95L26.60 14.43Z" fill="#f2d44f"/><path d="M30.00 14.10L33.76 9.69L35.54 15.20ZM35.92 15.36L41.08 12.72L40.62 18.50ZM40.90 18.78L46.68 18.32L44.04 23.48ZM44.20 23.86L49.71 25.64L45.30 29.40ZM45.30 29.80L49.71 33.56L44.20 35.34ZM44.04 35.72L46.68 40.88L40.90 40.42ZM40.62 40.70L41.08 46.48L35.92 43.84ZM35.54 44.00L33.76 49.51L30.00 45.10ZM29.60 45.10L25.84 49.51L24.06 44.00ZM23.68 43.84L18.52 46.48L18.98 40.70ZM18.70 40.42L12.92 40.88L15.56 35.72ZM15.40 35.34L9.89 33.56L14.30 29.80ZM14.30 29.40L9.89 25.64L15.40 23.86ZM15.56 23.48L12.92 18.32L18.70 18.78ZM18.98 18.50L18.52 12.72L23.68 15.36ZM24.06 15.20L25.84 9.69L29.60 14.10Z" fill="#fff"/><circle cx="29.8" cy="29.6" r="16.2" fill="#fff"/><circle cx="29.8" cy="29.6" r="15" fill="url(#sung)"/></g>
<g transform="translate(674.20 700)" clip-path="url(#ic)"><rect width="58.8" height="59" fill="url(#sky)"/><path d="M26.95 14.36L29.80 4.00L32.65 14.36ZM33.00 14.43L39.60 5.95L38.26 16.62ZM38.56 16.81L47.90 11.50L42.59 20.84ZM42.78 21.14L53.45 19.80L44.97 26.40ZM45.04 26.75L55.40 29.60L45.04 32.45ZM44.97 32.80L53.45 39.40L42.78 38.06ZM42.59 38.36L47.90 47.70L38.56 42.39ZM38.26 42.58L39.60 53.25L33.00 44.77ZM32.65 44.84L29.80 55.20L26.95 44.84ZM26.60 44.77L20.00 53.25L21.34 42.58ZM21.04 42.39L11.70 47.70L17.01 38.36ZM16.82 38.06L6.15 39.40L14.63 32.80ZM14.56 32.45L4.20 29.60L14.56 26.75ZM14.63 26.40L6.15 19.80L16.82 21.14ZM17.01 20.84L11.70 11.50L21.04 16.81ZM21.34 16.62L20.00 5.95L26.60 14.43Z" fill="#f2d44f"/><path d="M30.00 14.10L33.76 9.69L35.54 15.20ZM35.92 15.36L41.08 12.72L40.62 18.50ZM40.90 18.78L46.68 18.32L44.04 23.48ZM44.20 23.86L49.71 25.64L45.30 29.40ZM45.30 29.80L49.71 33.56L44.20 35.34ZM44.04 35.72L46.68 40.88L40.90 40.42ZM40.62 40.70L41.08 46.48L35.92 43.84ZM35.54 44.00L33.76 49.51L30.00 45.10ZM29.60 45.10L25.84 49.51L24.06 44.00ZM23.68 43.84L18.52 46.48L18.98 40.70ZM18.70 40.42L12.92 40.88L15.56 35.72ZM15.40 35.34L9.89 33.56L14.30 29.80ZM14.30 29.40L9.89 25.64L15.40 23.86ZM15.56 23.48L12.92 18.32L18.70 18.78ZM18.98 18.50L18.52 12.72L23.68 15.36ZM24.06 15.20L25.84 9.69L29.60 14.10Z" fill="#fff"/><circle cx="29.8" cy="29.6" r="16.2" fill="#fff"/><circle cx="29.8" cy="29.6" r="15" fill="url(#sung)"/></g>
<g transform="translate(734.20 700)" clip-path="url(#ic)"><rect width="58.8" height="59" fill="#0b0c13"/><circle cx="19.8" cy="22" r="16" fill="url(#moong)"/><circle cx="19.12" cy="16.48" r="2.59" fill="#d6d69f"/><circle cx="24.98" cy="21.10" r="2.25" fill="#d6d69f"/><circle cx="7.97" cy="19.07" r="2.25" fill="#d6d69f"/><circle cx="16.98" cy="25.61" r="2.03" fill="#d6d69f"/><circle cx="18.67" cy="28.08" r="2.25" fill="#d6d69f"/><g fill="#9c9ea8"><ellipse cx="23.4" cy="30.2" rx="5.70" ry="5.70"/><ellipse cx="29.6" cy="22.6" rx="6.10" ry="6.10"/><ellipse cx="39.2" cy="18.2" rx="6.10" ry="6.10"/><ellipse cx="49.8" cy="20.8" rx="5.70" ry="5.70"/><ellipse cx="57.5" cy="24.5" rx="5.30" ry="5.30"/><rect x="18.9" y="26.5" width="45.6" height="10.600000000000001" rx="5.5"/></g><g fill="url(#cg0)"><ellipse cx="23.4" cy="30.2" rx="5.20" ry="5.20"/><ellipse cx="29.6" cy="22.6" rx="5.60" ry="5.60"/><ellipse cx="39.2" cy="18.2" rx="5.60" ry="5.60"/><ellipse cx="49.8" cy="20.8" rx="5.20" ry="5.20"/><ellipse cx="57.5" cy="24.5" rx="4.80" ry="4.80"/><rect x="19.4" y="27.0" width="44.6" height="9.600000000000001" rx="5"/><polygon points="23.4,30.2 29.6,22.6 39.2,18.2 49.8,20.8 57.5,24.5 64.0,31.6 24.4,31.6"/></g><g fill="#9c9ea8"><ellipse cx="28.8" cy="35.6" rx="5.70" ry="5.70"/><ellipse cx="34.6" cy="29.2" rx="5.50" ry="5.50"/><ellipse cx="42.8" cy="25.8" rx="5.50" ry="5.50"/><ellipse cx="50.5" cy="28.5" rx="4.90" ry="4.90"/><rect x="23.8" y="31.5" width="40.7" height="14.399999999999999" rx="6.0"/></g><g fill="url(#cg1)"><ellipse cx="28.8" cy="35.6" rx="5.20" ry="5.20"/><ellipse cx="34.6" cy="29.2" rx="5.00" ry="5.00"/><ellipse cx="42.8" cy="25.8" rx="5.00" ry="5.00"/><ellipse cx="50.5" cy="28.5" rx="4.40" ry="4.40"/><rect x="24.3" y="32.0" width="39.7" height="13.399999999999999" rx="5.5"/><polygon points="28.8,35.6 34.6,29.2 42.8,25.8 50.5,28.5 64.0,39.9 29.8,39.9"/></g><g fill="#9c9ea8"><ellipse cx="42.6" cy="39.4" rx="5.50" ry="5.50"/><ellipse cx="46.2" cy="34.2" rx="5.10" ry="5.10"/><ellipse cx="53.0" cy="30.9" rx="5.50" ry="5.50"/><ellipse cx="59.5" cy="32.5" rx="4.90" ry="4.90"/><rect x="37.5" y="36.0" width="27.0" height="9.200000000000003" rx="5.7"/></g><g fill="url(#cg2)"><ellipse cx="42.6" cy="39.4" rx="5.00" ry="5.00"/><ellipse cx="46.2" cy="34.2" rx="4.60" ry="4.60"/><ellipse cx="53.0" cy="30.9" rx="5.00" ry="5.00"/><ellipse cx="59.5" cy="32.5" rx="4.40" ry="4.40"/><rect x="38.0" y="36.5" width="26.0" height="8.200000000000003" rx="5.2"/><polygon points="42.6,39.4 46.2,34.2 53.0,30.9 59.5,32.5 64.0,39.5 43.2,39.5"/></g></g>
<g transform="translate(794.15 700)" clip-path="url(#ic)"><rect width="58.8" height="59" fill="#0b0c13"/><circle cx="19.8" cy="22" r="16" fill="url(#moong)"/><circle cx="19.12" cy="16.48" r="2.59" fill="#d6d69f"/><circle cx="24.98" cy="21.10" r="2.25" fill="#d6d69f"/><circle cx="7.97" cy="19.07" r="2.25" fill="#d6d69f"/><circle cx="16.98" cy="25.61" r="2.03" fill="#d6d69f"/><circle cx="18.67" cy="28.08" r="2.25" fill="#d6d69f"/><g fill="#9c9ea8"><ellipse cx="23.4" cy="30.2" rx="5.70" ry="5.70"/><ellipse cx="29.6" cy="22.6" rx="6.10" ry="6.10"/><ellipse cx="39.2" cy="18.2" rx="6.10" ry="6.10"/><ellipse cx="49.8" cy="20.8" rx="5.70" ry="5.70"/><ellipse cx="57.5" cy="24.5" rx="5.30" ry="5.30"/><rect x="18.9" y="26.5" width="45.6" height="10.600000000000001" rx="5.5"/></g><g fill="url(#cg0)"><ellipse cx="23.4" cy="30.2" rx="5.20" ry="5.20"/><ellipse cx="29.6" cy="22.6" rx="5.60" ry="5.60"/><ellipse cx="39.2" cy="18.2" rx="5.60" ry="5.60"/><ellipse cx="49.8" cy="20.8" rx="5.20" ry="5.20"/><ellipse cx="57.5" cy="24.5" rx="4.80" ry="4.80"/><rect x="19.4" y="27.0" width="44.6" height="9.600000000000001" rx="5"/><polygon points="23.4,30.2 29.6,22.6 39.2,18.2 49.8,20.8 57.5,24.5 64.0,31.6 24.4,31.6"/></g><g fill="#9c9ea8"><ellipse cx="28.8" cy="35.6" rx="5.70" ry="5.70"/><ellipse cx="34.6" cy="29.2" rx="5.50" ry="5.50"/><ellipse cx="42.8" cy="25.8" rx="5.50" ry="5.50"/><ellipse cx="50.5" cy="28.5" rx="4.90" ry="4.90"/><rect x="23.8" y="31.5" width="40.7" height="14.399999999999999" rx="6.0"/></g><g fill="url(#cg1)"><ellipse cx="28.8" cy="35.6" rx="5.20" ry="5.20"/><ellipse cx="34.6" cy="29.2" rx="5.00" ry="5.00"/><ellipse cx="42.8" cy="25.8" rx="5.00" ry="5.00"/><ellipse cx="50.5" cy="28.5" rx="4.40" ry="4.40"/><rect x="24.3" y="32.0" width="39.7" height="13.399999999999999" rx="5.5"/><polygon points="28.8,35.6 34.6,29.2 42.8,25.8 50.5,28.5 64.0,39.9 29.8,39.9"/></g><g fill="#9c9ea8"><ellipse cx="42.6" cy="39.4" rx="5.50" ry="5.50"/><ellipse cx="46.2" cy="34.2" rx="5.10" ry="5.10"/><ellipse cx="53.0" cy="30.9" rx="5.50" ry="5.50"/><ellipse cx="59.5" cy="32.5" rx="4.90" ry="4.90"/><rect x="37.5" y="36.0" width="27.0" height="9.200000000000003" rx="5.7"/></g><g fill="url(#cg2)"><ellipse cx="42.6" cy="39.4" rx="5.00" ry="5.00"/><ellipse cx="46.2" cy="34.2" rx="4.60" ry="4.60"/><ellipse cx="53.0" cy="30.9" rx="5.00" ry="5.00"/><ellipse cx="59.5" cy="32.5" rx="4.40" ry="4.40"/><rect x="38.0" y="36.5" width="26.0" height="8.200000000000003" rx="5.2"/><polygon points="42.6,39.4 46.2,34.2 53.0,30.9 59.5,32.5 64.0,39.5 43.2,39.5"/></g></g>
<g transform="translate(854.15 700)" clip-path="url(#ic)"><rect width="58.8" height="59" fill="url(#sky)"/><path d="M26.95 14.36L29.80 4.00L32.65 14.36ZM33.00 14.43L39.60 5.95L38.26 16.62ZM38.56 16.81L47.90 11.50L42.59 20.84ZM42.78 21.14L53.45 19.80L44.97 26.40ZM45.04 26.75L55.40 29.60L45.04 32.45ZM44.97 32.80L53.45 39.40L42.78 38.06ZM42.59 38.36L47.90 47.70L38.56 42.39ZM38.26 42.58L39.60 53.25L33.00 44.77ZM32.65 44.84L29.80 55.20L26.95 44.84ZM26.60 44.77L20.00 53.25L21.34 42.58ZM21.04 42.39L11.70 47.70L17.01 38.36ZM16.82 38.06L6.15 39.40L14.63 32.80ZM14.56 32.45L4.20 29.60L14.56 26.75ZM14.63 26.40L6.15 19.80L16.82 21.14ZM17.01 20.84L11.70 11.50L21.04 16.81ZM21.34 16.62L20.00 5.95L26.60 14.43Z" fill="#f2d44f"/><path d="M30.00 14.10L33.76 9.69L35.54 15.20ZM35.92 15.36L41.08 12.72L40.62 18.50ZM40.90 18.78L46.68 18.32L44.04 23.48ZM44.20 23.86L49.71 25.64L45.30 29.40ZM45.30 29.80L49.71 33.56L44.20 35.34ZM44.04 35.72L46.68 40.88L40.90 40.42ZM40.62 40.70L41.08 46.48L35.92 43.84ZM35.54 44.00L33.76 49.51L30.00 45.10ZM29.60 45.10L25.84 49.51L24.06 44.00ZM23.68 43.84L18.52 46.48L18.98 40.70ZM18.70 40.42L12.92 40.88L15.56 35.72ZM15.40 35.34L9.89 33.56L14.30 29.80ZM14.30 29.40L9.89 25.64L15.40 23.86ZM15.56 23.48L12.92 18.32L18.70 18.78ZM18.98 18.50L18.52 12.72L23.68 15.36ZM24.06 15.20L25.84 9.69L29.60 14.10Z" fill="#fff"/><circle cx="29.8" cy="29.6" r="16.2" fill="#fff"/><circle cx="29.8" cy="29.6" r="15" fill="url(#sung)"/></g>
<g transform="translate(914.20 700)" clip-path="url(#ic)"><rect width="58.8" height="59" fill="url(#sky)"/><path d="M26.95 14.36L29.80 4.00L32.65 14.36ZM33.00 14.43L39.60 5.95L38.26 16.62ZM38.56 16.81L47.90 11.50L42.59 20.84ZM42.78 21.14L53.45 19.80L44.97 26.40ZM45.04 26.75L55.40 29.60L45.04 32.45ZM44.97 32.80L53.45 39.40L42.78 38.06ZM42.59 38.36L47.90 47.70L38.56 42.39ZM38.26 42.58L39.60 53.25L33.00 44.77ZM32.65 44.84L29.80 55.20L26.95 44.84ZM26.60 44.77L20.00 53.25L21.34 42.58ZM21.04 42.39L11.70 47.70L17.01 38.36ZM16.82 38.06L6.15 39.40L14.63 32.80ZM14.56 32.45L4.20 29.60L14.56 26.75ZM14.63 26.40L6.15 19.80L16.82 21.14ZM17.01 20.84L11.70 11.50L21.04 16.81ZM21.34 16.62L20.00 5.95L26.60 14.43Z" fill="#f2d44f"/><path d="M30.00 14.10L33.76 9.69L35.54 15.20ZM35.92 15.36L41.08 12.72L40.62 18.50ZM40.90 18.78L46.68 18.32L44.04 23.48ZM44.20 23.86L49.71 25.64L45.30 29.40ZM45.30 29.80L49.71 33.56L44.20 35.34ZM44.04 35.72L46.68 40.88L40.90 40.42ZM40.62 40.70L41.08 46.48L35.92 43.84ZM35.54 44.00L33.76 49.51L30.00 45.10ZM29.60 45.10L25.84 49.51L24.06 44.00ZM23.68 43.84L18.52 46.48L18.98 40.70ZM18.70 40.42L12.92 40.88L15.56 35.72ZM15.40 35.34L9.89 33.56L14.30 29.80ZM14.30 29.40L9.89 25.64L15.40 23.86ZM15.56 23.48L12.92 18.32L18.70 18.78ZM18.98 18.50L18.52 12.72L23.68 15.36ZM24.06 15.20L25.84 9.69L29.60 14.10Z" fill="#fff"/><circle cx="29.8" cy="29.6" r="16.2" fill="#fff"/><circle cx="29.8" cy="29.6" r="15" fill="url(#sung)"/></g>
<g transform="translate(974.20 700)" clip-path="url(#ic)"><rect width="58.8" height="59" fill="#0b0c13"/><g fill="#9c9ea8"><ellipse cx="-2" cy="12.5" rx="5.00" ry="4.10"/><ellipse cx="3.0" cy="11.6" rx="5.25" ry="4.30"/><ellipse cx="12.4" cy="8.2" rx="6.75" ry="5.50"/><ellipse cx="22.3" cy="11.4" rx="5.75" ry="4.70"/><ellipse cx="28.5" cy="14.2" rx="4.25" ry="3.50"/><rect x="-6.5" y="10.0" width="39" height="10.5" rx="4.5"/></g><g fill="url(#cg3)"><ellipse cx="-2" cy="12.5" rx="4.50" ry="3.60"/><ellipse cx="3.0" cy="11.6" rx="4.75" ry="3.80"/><ellipse cx="12.4" cy="8.2" rx="6.25" ry="5.00"/><ellipse cx="22.3" cy="11.4" rx="5.25" ry="4.20"/><ellipse cx="28.5" cy="14.2" rx="3.75" ry="3.00"/><rect x="-6" y="10.5" width="38" height="9.5" rx="4"/><polygon points="-2,12.5 3.0,11.6 12.4,8.2 22.3,11.4 28.5,14.2 32,16 -2,16"/></g><g fill="#9c9ea8"><ellipse cx="40.5" cy="13.0" rx="4.25" ry="3.50"/><ellipse cx="46.8" cy="10.6" rx="5.25" ry="4.30"/><ellipse cx="56" cy="8.0" rx="6.50" ry="5.30"/><ellipse cx="62" cy="10" rx="5.00" ry="4.10"/><rect x="37.0" y="10.0" width="29.5" height="10.5" rx="4.5"/></g><g fill="url(#cg3)"><ellipse cx="40.5" cy="13.0" rx="3.75" ry="3.00"/><ellipse cx="46.8" cy="10.6" rx="4.75" ry="3.80"/><ellipse cx="56" cy="8.0" rx="6.00" ry="4.80"/><ellipse cx="62" cy="10" rx="4.50" ry="3.60"/><rect x="37.5" y="10.5" width="28.5" height="9.5" rx="4"/><polygon points="40.5,13.0 46.8,10.6 56,8.0 62,10 66,16 41.5,16"/></g><g fill="#9c9ea8"><ellipse cx="-1" cy="20.5" rx="5.50" ry="4.50"/><ellipse cx="7.2" cy="17.2" rx="6.75" ry="5.50"/><ellipse cx="17.5" cy="19.0" rx="6.00" ry="4.90"/><ellipse cx="24.5" cy="21.4" rx="4.75" ry="3.90"/><rect x="-6.5" y="18.0" width="35" height="12.899999999999999" rx="5.5"/></g><g fill="url(#cg4)"><ellipse cx="-1" cy="20.5" rx="5.00" ry="4.00"/><ellipse cx="7.2" cy="17.2" rx="6.25" ry="5.00"/><ellipse cx="17.5" cy="19.0" rx="5.50" ry="4.40"/><ellipse cx="24.5" cy="21.4" rx="4.25" ry="3.40"/><rect x="-6" y="18.5" width="34" height="11.899999999999999" rx="5"/><polygon points="-1,20.5 7.2,17.2 17.5,19.0 24.5,21.4 28,25.4 -1,25.4"/></g><g fill="#9c9ea8"><ellipse cx="30.5" cy="17.6" rx="5.50" ry="4.50"/><ellipse cx="38.5" cy="13.2" rx="7.25" ry="5.90"/><ellipse cx="48.5" cy="16.8" rx="6.50" ry="5.30"/><ellipse cx="56.5" cy="19.0" rx="5.75" ry="4.70"/><rect x="25.5" y="15.0" width="41" height="12.100000000000001" rx="5.5"/></g><g fill="url(#cg5)"><ellipse cx="30.5" cy="17.6" rx="5.00" ry="4.00"/><ellipse cx="38.5" cy="13.2" rx="6.75" ry="5.40"/><ellipse cx="48.5" cy="16.8" rx="6.00" ry="4.80"/><ellipse cx="56.5" cy="19.0" rx="5.25" ry="4.20"/><rect x="26" y="15.5" width="40" height="11.100000000000001" rx="5"/><polygon points="30.5,17.6 38.5,13.2 48.5,16.8 56.5,19.0 66,21.6 31,21.6"/></g><g fill="#9c9ea8"><ellipse cx="9.6" cy="30.6" rx="6.25" ry="5.10"/><ellipse cx="17.5" cy="25.4" rx="6.50" ry="5.30"/><ellipse cx="29" cy="23.2" rx="7.25" ry="5.90"/><ellipse cx="39.6" cy="26.0" rx="6.25" ry="5.10"/><ellipse cx="46.4" cy="30.8" rx="6.00" ry="4.90"/><rect x="3.8" y="26.0" width="47.900000000000006" height="11.299999999999997" rx="6.1"/></g><g fill="url(#cg6)"><ellipse cx="9.6" cy="30.6" rx="5.75" ry="4.60"/><ellipse cx="17.5" cy="25.4" rx="6.00" ry="4.80"/><ellipse cx="29" cy="23.2" rx="6.75" ry="5.40"/><ellipse cx="39.6" cy="26.0" rx="5.75" ry="4.60"/><ellipse cx="46.4" cy="30.8" rx="5.50" ry="4.40"/><rect x="4.3" y="26.5" width="46.900000000000006" height="10.299999999999997" rx="5.6"/><polygon points="9.6,30.6 17.5,25.4 29,23.2 39.6,26.0 46.4,30.8 51.2,31.199999999999996 9.899999999999999,31.199999999999996"/></g></g>
<g transform="translate(1034.15 700)" clip-path="url(#ic)"><rect width="58.8" height="59" fill="#0b0c13"/><g fill="#9c9ea8"><ellipse cx="-2" cy="12.5" rx="5.00" ry="4.10"/><ellipse cx="3.0" cy="11.6" rx="5.25" ry="4.30"/><ellipse cx="12.4" cy="8.2" rx="6.75" ry="5.50"/><ellipse cx="22.3" cy="11.4" rx="5.75" ry="4.70"/><ellipse cx="28.5" cy="14.2" rx="4.25" ry="3.50"/><rect x="-6.5" y="10.0" width="39" height="10.5" rx="4.5"/></g><g fill="url(#cg3)"><ellipse cx="-2" cy="12.5" rx="4.50" ry="3.60"/><ellipse cx="3.0" cy="11.6" rx="4.75" ry="3.80"/><ellipse cx="12.4" cy="8.2" rx="6.25" ry="5.00"/><ellipse cx="22.3" cy="11.4" rx="5.25" ry="4.20"/><ellipse cx="28.5" cy="14.2" rx="3.75" ry="3.00"/><rect x="-6" y="10.5" width="38" height="9.5" rx="4"/><polygon points="-2,12.5 3.0,11.6 12.4,8.2 22.3,11.4 28.5,14.2 32,16 -2,16"/></g><g fill="#9c9ea8"><ellipse cx="40.5" cy="13.0" rx="4.25" ry="3.50"/><ellipse cx="46.8" cy="10.6" rx="5.25" ry="4.30"/><ellipse cx="56" cy="8.0" rx="6.50" ry="5.30"/><ellipse cx="62" cy="10" rx="5.00" ry="4.10"/><rect x="37.0" y="10.0" width="29.5" height="10.5" rx="4.5"/></g><g fill="url(#cg3)"><ellipse cx="40.5" cy="13.0" rx="3.75" ry="3.00"/><ellipse cx="46.8" cy="10.6" rx="4.75" ry="3.80"/><ellipse cx="56" cy="8.0" rx="6.00" ry="4.80"/><ellipse cx="62" cy="10" rx="4.50" ry="3.60"/><rect x="37.5" y="10.5" width="28.5" height="9.5" rx="4"/><polygon points="40.5,13.0 46.8,10.6 56,8.0 62,10 66,16 41.5,16"/></g><g fill="#9c9ea8"><ellipse cx="-1" cy="20.5" rx="5.50" ry="4.50"/><ellipse cx="7.2" cy="17.2" rx="6.75" ry="5.50"/><ellipse cx="17.5" cy="19.0" rx="6.00" ry="4.90"/><ellipse cx="24.5" cy="21.4" rx="4.75" ry="3.90"/><rect x="-6.5" y="18.0" width="35" height="12.899999999999999" rx="5.5"/></g><g fill="url(#cg4)"><ellipse cx="-1" cy="20.5" rx="5.00" ry="4.00"/><ellipse cx="7.2" cy="17.2" rx="6.25" ry="5.00"/><ellipse cx="17.5" cy="19.0" rx="5.50" ry="4.40"/><ellipse cx="24.5" cy="21.4" rx="4.25" ry="3.40"/><rect x="-6" y="18.5" width="34" height="11.899999999999999" rx="5"/><polygon points="-1,20.5 7.2,17.2 17.5,19.0 24.5,21.4 28,25.4 -1,25.4"/></g><g fill="#9c9ea8"><ellipse cx="30.5" cy="17.6" rx="5.50" ry="4.50"/><ellipse cx="38.5" cy="13.2" rx="7.25" ry="5.90"/><ellipse cx="48.5" cy="16.8" rx="6.50" ry="5.30"/><ellipse cx="56.5" cy="19.0" rx="5.75" ry="4.70"/><rect x="25.5" y="15.0" width="41" height="12.100000000000001" rx="5.5"/></g><g fill="url(#cg5)"><ellipse cx="30.5" cy="17.6" rx="5.00" ry="4.00"/><ellipse cx="38.5" cy="13.2" rx="6.75" ry="5.40"/><ellipse cx="48.5" cy="16.8" rx="6.00" ry="4.80"/><ellipse cx="56.5" cy="19.0" rx="5.25" ry="4.20"/><rect x="26" y="15.5" width="40" height="11.100000000000001" rx="5"/><polygon points="30.5,17.6 38.5,13.2 48.5,16.8 56.5,19.0 66,21.6 31,21.6"/></g><g fill="#9c9ea8"><ellipse cx="9.6" cy="30.6" rx="6.25" ry="5.10"/><ellipse cx="17.5" cy="25.4" rx="6.50" ry="5.30"/><ellipse cx="29" cy="23.2" rx="7.25" ry="5.90"/><ellipse cx="39.6" cy="26.0" rx="6.25" ry="5.10"/><ellipse cx="46.4" cy="30.8" rx="6.00" ry="4.90"/><rect x="3.8" y="26.0" width="47.900000000000006" height="11.299999999999997" rx="6.1"/></g><g fill="url(#cg6)"><ellipse cx="9.6" cy="30.6" rx="5.75" ry="4.60"/><ellipse cx="17.5" cy="25.4" rx="6.00" ry="4.80"/><ellipse cx="29" cy="23.2" rx="6.75" ry="5.40"/><ellipse cx="39.6" cy="26.0" rx="5.75" ry="4.60"/><ellipse cx="46.4" cy="30.8" rx="5.50" ry="4.40"/><rect x="4.3" y="26.5" width="46.900000000000006" height="10.299999999999997" rx="5.6"/><polygon points="9.6,30.6 17.5,25.4 29,23.2 39.6,26.0 46.4,30.8 51.2,31.199999999999996 9.899999999999999,31.199999999999996"/></g></g>
<g transform="translate(1094.15 700)" clip-path="url(#ic)"><rect width="58.8" height="59" fill="url(#sky)"/><g filter="url(#bl)"><polygon points="28.60,4.50 31.53,14.29 37.98,6.36 36.93,16.53 45.92,11.68 41.07,20.67 51.24,19.62 43.31,26.07 53.10,29.00 43.31,31.93 51.24,38.38 41.07,37.33 45.92,46.32 36.93,41.47 37.98,51.64 31.53,43.71 28.60,53.50 25.67,43.71 19.22,51.64 20.27,41.47 11.28,46.32 16.13,37.33 5.96,38.38 13.89,31.93 4.10,29.00 13.89,26.07 5.96,19.62 16.13,20.67 11.28,11.68 20.27,16.53 19.22,6.36 25.67,14.29" fill="#f3da62"/><circle cx="28.6" cy="29" r="16.2" fill="#fffbe6"/></g><circle cx="28.6" cy="29" r="14.8" fill="url(#sung)"/><g fill="#9c9ea8"><ellipse cx="30.6" cy="36.0" rx="5.30" ry="5.30"/><ellipse cx="36.8" cy="29.6" rx="5.40" ry="5.40"/><ellipse cx="45.4" cy="25.6" rx="5.50" ry="5.50"/><ellipse cx="54.2" cy="28.2" rx="5.30" ry="5.30"/><ellipse cx="60" cy="31" rx="4.90" ry="4.90"/><rect x="25.5" y="32.5" width="39" height="13" rx="5.0"/></g><g fill="url(#cg7)"><ellipse cx="30.6" cy="36.0" rx="4.80" ry="4.80"/><ellipse cx="36.8" cy="29.6" rx="4.90" ry="4.90"/><ellipse cx="45.4" cy="25.6" rx="5.00" ry="5.00"/><ellipse cx="54.2" cy="28.2" rx="4.80" ry="4.80"/><ellipse cx="60" cy="31" rx="4.40" ry="4.40"/><rect x="26" y="33" width="38" height="12" rx="4.5"/><polygon points="30.6,36.0 36.8,29.6 45.4,25.6 54.2,28.2 60,31 64,40.5 30.5,40.5"/></g><g fill="#9c9ea8"><ellipse cx="29.4" cy="44.6" rx="5.50" ry="5.50"/><ellipse cx="35.2" cy="37.8" rx="5.10" ry="5.10"/><ellipse cx="44.2" cy="34.6" rx="5.30" ry="5.30"/><ellipse cx="51" cy="37" rx="4.70" ry="4.70"/><rect x="23.9" y="40.5" width="40.6" height="11.700000000000003" rx="5.5"/></g><g fill="url(#cg8)"><ellipse cx="29.4" cy="44.6" rx="5.00" ry="5.00"/><ellipse cx="35.2" cy="37.8" rx="4.60" ry="4.60"/><ellipse cx="44.2" cy="34.6" rx="4.80" ry="4.80"/><ellipse cx="51" cy="37" rx="4.20" ry="4.20"/><rect x="24.4" y="41" width="39.6" height="10.700000000000003" rx="5"/><polygon points="29.4,44.6 35.2,37.8 44.2,34.6 51,37 64,46.7 29.4,46.7"/></g><g fill="#9c9ea8"><ellipse cx="47.2" cy="46.2" rx="5.10" ry="5.10"/><ellipse cx="49.8" cy="41.0" rx="4.70" ry="4.70"/><ellipse cx="55.8" cy="37.8" rx="5.10" ry="5.10"/><ellipse cx="61" cy="39" rx="4.50" ry="4.50"/><rect x="42.1" y="43.0" width="22.4" height="8.799999999999997" rx="5.1"/></g><g fill="url(#cg9)"><ellipse cx="47.2" cy="46.2" rx="4.60" ry="4.60"/><ellipse cx="49.8" cy="41.0" rx="4.20" ry="4.20"/><ellipse cx="55.8" cy="37.8" rx="4.60" ry="4.60"/><ellipse cx="61" cy="39" rx="4.00" ry="4.00"/><rect x="42.6" y="43.5" width="21.4" height="7.799999999999997" rx="4.6"/><polygon points="47.2,46.2 49.8,41.0 55.8,37.8 61,39 64,46.699999999999996 47.2,46.699999999999996"/></g></g>
<g transform="translate(1154.20 700)" clip-path="url(#ic)"><rect width="58.8" height="59" fill="url(#sky)"/><g filter="url(#bl)"><polygon points="28.60,4.50 31.53,14.29 37.98,6.36 36.93,16.53 45.92,11.68 41.07,20.67 51.24,19.62 43.31,26.07 53.10,29.00 43.31,31.93 51.24,38.38 41.07,37.33 45.92,46.32 36.93,41.47 37.98,51.64 31.53,43.71 28.60,53.50 25.67,43.71 19.22,51.64 20.27,41.47 11.28,46.32 16.13,37.33 5.96,38.38 13.89,31.93 4.10,29.00 13.89,26.07 5.96,19.62 16.13,20.67 11.28,11.68 20.27,16.53 19.22,6.36 25.67,14.29" fill="#f3da62"/><circle cx="28.6" cy="29" r="16.2" fill="#fffbe6"/></g><circle cx="28.6" cy="29" r="14.8" fill="url(#sung)"/><g fill="#9c9ea8"><ellipse cx="30.6" cy="36.0" rx="5.30" ry="5.30"/><ellipse cx="36.8" cy="29.6" rx="5.40" ry="5.40"/><ellipse cx="45.4" cy="25.6" rx="5.50" ry="5.50"/><ellipse cx="54.2" cy="28.2" rx="5.30" ry="5.30"/><ellipse cx="60" cy="31" rx="4.90" ry="4.90"/><rect x="25.5" y="32.5" width="39" height="13" rx="5.0"/></g><g fill="url(#cg7)"><ellipse cx="30.6" cy="36.0" rx="4.80" ry="4.80"/><ellipse cx="36.8" cy="29.6" rx="4.90" ry="4.90"/><ellipse cx="45.4" cy="25.6" rx="5.00" ry="5.00"/><ellipse cx="54.2" cy="28.2" rx="4.80" ry="4.80"/><ellipse cx="60" cy="31" rx="4.40" ry="4.40"/><rect x="26" y="33" width="38" height="12" rx="4.5"/><polygon points="30.6,36.0 36.8,29.6 45.4,25.6 54.2,28.2 60,31 64,40.5 30.5,40.5"/></g><g fill="#9c9ea8"><ellipse cx="29.4" cy="44.6" rx="5.50" ry="5.50"/><ellipse cx="35.2" cy="37.8" rx="5.10" ry="5.10"/><ellipse cx="44.2" cy="34.6" rx="5.30" ry="5.30"/><ellipse cx="51" cy="37" rx="4.70" ry="4.70"/><rect x="23.9" y="40.5" width="40.6" height="11.700000000000003" rx="5.5"/></g><g fill="url(#cg8)"><ellipse cx="29.4" cy="44.6" rx="5.00" ry="5.00"/><ellipse cx="35.2" cy="37.8" rx="4.60" ry="4.60"/><ellipse cx="44.2" cy="34.6" rx="4.80" ry="4.80"/><ellipse cx="51" cy="37" rx="4.20" ry="4.20"/><rect x="24.4" y="41" width="39.6" height="10.700000000000003" rx="5"/><polygon points="29.4,44.6 35.2,37.8 44.2,34.6 51,37 64,46.7 29.4,46.7"/></g><g fill="#9c9ea8"><ellipse cx="47.2" cy="46.2" rx="5.10" ry="5.10"/><ellipse cx="49.8" cy="41.0" rx="4.70" ry="4.70"/><ellipse cx="55.8" cy="37.8" rx="5.10" ry="5.10"/><ellipse cx="61" cy="39" rx="4.50" ry="4.50"/><rect x="42.1" y="43.0" width="22.4" height="8.799999999999997" rx="5.1"/></g><g fill="url(#cg9)"><ellipse cx="47.2" cy="46.2" rx="4.60" ry="4.60"/><ellipse cx="49.8" cy="41.0" rx="4.20" ry="4.20"/><ellipse cx="55.8" cy="37.8" rx="4.60" ry="4.60"/><ellipse cx="61" cy="39" rx="4.00" ry="4.00"/><rect x="42.6" y="43.5" width="21.4" height="7.799999999999997" rx="4.6"/><polygon points="47.2,46.2 49.8,41.0 55.8,37.8 61,39 64,46.699999999999996 47.2,46.699999999999996"/></g></g>
<g transform="translate(1214.20 700)" clip-path="url(#ic)"><rect width="58.8" height="59" fill="#0b0c13"/><circle cx="20" cy="22.1" r="14.2" fill="url(#moong)"/><circle cx="19.40" cy="17.20" r="2.30" fill="#d6d69f"/><circle cx="24.60" cy="21.30" r="2.00" fill="#d6d69f"/><circle cx="9.50" cy="19.50" r="2.00" fill="#d6d69f"/><circle cx="17.50" cy="25.30" r="1.80" fill="#d6d69f"/><circle cx="19.00" cy="27.50" r="2.00" fill="#d6d69f"/><circle cx="39" cy="8" r="1.15" fill="#8c8c84"/><circle cx="41" cy="20.6" r="1.15" fill="#8c8c84"/><circle cx="15.5" cy="45.6" r="1.15" fill="#8c8c84"/><circle cx="33.3" cy="49.6" r="1.15" fill="#8c8c84"/></g>
<g transform="translate(1274.40 700)" clip-path="url(#ic)"><rect width="58.8" height="59" fill="#0b0c13"/><circle cx="20" cy="22.1" r="14.2" fill="url(#moong)"/><circle cx="19.40" cy="17.20" r="2.30" fill="#d6d69f"/><circle cx="24.60" cy="21.30" r="2.00" fill="#d6d69f"/><circle cx="9.50" cy="19.50" r="2.00" fill="#d6d69f"/><circle cx="17.50" cy="25.30" r="1.80" fill="#d6d69f"/><circle cx="19.00" cy="27.50" r="2.00" fill="#d6d69f"/><circle cx="39" cy="8" r="1.15" fill="#8c8c84"/><circle cx="41" cy="20.6" r="1.15" fill="#8c8c84"/><circle cx="15.5" cy="45.6" r="1.15" fill="#8c8c84"/><circle cx="33.3" cy="49.6" r="1.15" fill="#8c8c84"/></g>
<g transform="translate(1335.10 700)" clip-path="url(#ic)"><rect width="58.8" height="59" fill="url(#sky)"/><path d="M26.95 14.36L29.80 4.00L32.65 14.36ZM33.00 14.43L39.60 5.95L38.26 16.62ZM38.56 16.81L47.90 11.50L42.59 20.84ZM42.78 21.14L53.45 19.80L44.97 26.40ZM45.04 26.75L55.40 29.60L45.04 32.45ZM44.97 32.80L53.45 39.40L42.78 38.06ZM42.59 38.36L47.90 47.70L38.56 42.39ZM38.26 42.58L39.60 53.25L33.00 44.77ZM32.65 44.84L29.80 55.20L26.95 44.84ZM26.60 44.77L20.00 53.25L21.34 42.58ZM21.04 42.39L11.70 47.70L17.01 38.36ZM16.82 38.06L6.15 39.40L14.63 32.80ZM14.56 32.45L4.20 29.60L14.56 26.75ZM14.63 26.40L6.15 19.80L16.82 21.14ZM17.01 20.84L11.70 11.50L21.04 16.81ZM21.34 16.62L20.00 5.95L26.60 14.43Z" fill="#f2d44f"/><path d="M30.00 14.10L33.76 9.69L35.54 15.20ZM35.92 15.36L41.08 12.72L40.62 18.50ZM40.90 18.78L46.68 18.32L44.04 23.48ZM44.20 23.86L49.71 25.64L45.30 29.40ZM45.30 29.80L49.71 33.56L44.20 35.34ZM44.04 35.72L46.68 40.88L40.90 40.42ZM40.62 40.70L41.08 46.48L35.92 43.84ZM35.54 44.00L33.76 49.51L30.00 45.10ZM29.60 45.10L25.84 49.51L24.06 44.00ZM23.68 43.84L18.52 46.48L18.98 40.70ZM18.70 40.42L12.92 40.88L15.56 35.72ZM15.40 35.34L9.89 33.56L14.30 29.80ZM14.30 29.40L9.89 25.64L15.40 23.86ZM15.56 23.48L12.92 18.32L18.70 18.78ZM18.98 18.50L18.52 12.72L23.68 15.36ZM24.06 15.20L25.84 9.69L29.60 14.10Z" fill="#fff"/><circle cx="29.8" cy="29.6" r="16.2" fill="#fff"/><circle cx="29.8" cy="29.6" r="15" fill="url(#sung)"/></g>
<g transform="translate(1395.80 700)" clip-path="url(#ic)"><rect width="58.8" height="59" fill="url(#sky)"/><path d="M26.95 14.36L29.80 4.00L32.65 14.36ZM33.00 14.43L39.60 5.95L38.26 16.62ZM38.56 16.81L47.90 11.50L42.59 20.84ZM42.78 21.14L53.45 19.80L44.97 26.40ZM45.04 26.75L55.40 29.60L45.04 32.45ZM44.97 32.80L53.45 39.40L42.78 38.06ZM42.59 38.36L47.90 47.70L38.56 42.39ZM38.26 42.58L39.60 53.25L33.00 44.77ZM32.65 44.84L29.80 55.20L26.95 44.84ZM26.60 44.77L20.00 53.25L21.34 42.58ZM21.04 42.39L11.70 47.70L17.01 38.36ZM16.82 38.06L6.15 39.40L14.63 32.80ZM14.56 32.45L4.20 29.60L14.56 26.75ZM14.63 26.40L6.15 19.80L16.82 21.14ZM17.01 20.84L11.70 11.50L21.04 16.81ZM21.34 16.62L20.00 5.95L26.60 14.43Z" fill="#f2d44f"/><path d="M30.00 14.10L33.76 9.69L35.54 15.20ZM35.92 15.36L41.08 12.72L40.62 18.50ZM40.90 18.78L46.68 18.32L44.04 23.48ZM44.20 23.86L49.71 25.64L45.30 29.40ZM45.30 29.80L49.71 33.56L44.20 35.34ZM44.04 35.72L46.68 40.88L40.90 40.42ZM40.62 40.70L41.08 46.48L35.92 43.84ZM35.54 44.00L33.76 49.51L30.00 45.10ZM29.60 45.10L25.84 49.51L24.06 44.00ZM23.68 43.84L18.52 46.48L18.98 40.70ZM18.70 40.42L12.92 40.88L15.56 35.72ZM15.40 35.34L9.89 33.56L14.30 29.80ZM14.30 29.40L9.89 25.64L15.40 23.86ZM15.56 23.48L12.92 18.32L18.70 18.78ZM18.98 18.50L18.52 12.72L23.68 15.36ZM24.06 15.20L25.84 9.69L29.60 14.10Z" fill="#fff"/><circle cx="29.8" cy="29.6" r="16.2" fill="#fff"/><circle cx="29.8" cy="29.6" r="15" fill="url(#sung)"/></g>
<g transform="translate(1456.10 700)" clip-path="url(#ic)"><rect width="58.8" height="59" fill="#0b0c13"/><circle cx="19.8" cy="22" r="16" fill="url(#moong)"/><circle cx="19.12" cy="16.48" r="2.59" fill="#d6d69f"/><circle cx="24.98" cy="21.10" r="2.25" fill="#d6d69f"/><circle cx="7.97" cy="19.07" r="2.25" fill="#d6d69f"/><circle cx="16.98" cy="25.61" r="2.03" fill="#d6d69f"/><circle cx="18.67" cy="28.08" r="2.25" fill="#d6d69f"/><g fill="#9c9ea8"><ellipse cx="23.4" cy="30.2" rx="5.70" ry="5.70"/><ellipse cx="29.6" cy="22.6" rx="6.10" ry="6.10"/><ellipse cx="39.2" cy="18.2" rx="6.10" ry="6.10"/><ellipse cx="49.8" cy="20.8" rx="5.70" ry="5.70"/><ellipse cx="57.5" cy="24.5" rx="5.30" ry="5.30"/><rect x="18.9" y="26.5" width="45.6" height="10.600000000000001" rx="5.5"/></g><g fill="url(#cg0)"><ellipse cx="23.4" cy="30.2" rx="5.20" ry="5.20"/><ellipse cx="29.6" cy="22.6" rx="5.60" ry="5.60"/><ellipse cx="39.2" cy="18.2" rx="5.60" ry="5.60"/><ellipse cx="49.8" cy="20.8" rx="5.20" ry="5.20"/><ellipse cx="57.5" cy="24.5" rx="4.80" ry="4.80"/><rect x="19.4" y="27.0" width="44.6" height="9.600000000000001" rx="5"/><polygon points="23.4,30.2 29.6,22.6 39.2,18.2 49.8,20.8 57.5,24.5 64.0,31.6 24.4,31.6"/></g><g fill="#9c9ea8"><ellipse cx="28.8" cy="35.6" rx="5.70" ry="5.70"/><ellipse cx="34.6" cy="29.2" rx="5.50" ry="5.50"/><ellipse cx="42.8" cy="25.8" rx="5.50" ry="5.50"/><ellipse cx="50.5" cy="28.5" rx="4.90" ry="4.90"/><rect x="23.8" y="31.5" width="40.7" height="14.399999999999999" rx="6.0"/></g><g fill="url(#cg1)"><ellipse cx="28.8" cy="35.6" rx="5.20" ry="5.20"/><ellipse cx="34.6" cy="29.2" rx="5.00" ry="5.00"/><ellipse cx="42.8" cy="25.8" rx="5.00" ry="5.00"/><ellipse cx="50.5" cy="28.5" rx="4.40" ry="4.40"/><rect x="24.3" y="32.0" width="39.7" height="13.399999999999999" rx="5.5"/><polygon points="28.8,35.6 34.6,29.2 42.8,25.8 50.5,28.5 64.0,39.9 29.8,39.9"/></g><g fill="#9c9ea8"><ellipse cx="42.6" cy="39.4" rx="5.50" ry="5.50"/><ellipse cx="46.2" cy="34.2" rx="5.10" ry="5.10"/><ellipse cx="53.0" cy="30.9" rx="5.50" ry="5.50"/><ellipse cx="59.5" cy="32.5" rx="4.90" ry="4.90"/><rect x="37.5" y="36.0" width="27.0" height="9.200000000000003" rx="5.7"/></g><g fill="url(#cg2)"><ellipse cx="42.6" cy="39.4" rx="5.00" ry="5.00"/><ellipse cx="46.2" cy="34.2" rx="4.60" ry="4.60"/><ellipse cx="53.0" cy="30.9" rx="5.00" ry="5.00"/><ellipse cx="59.5" cy="32.5" rx="4.40" ry="4.40"/><rect x="38.0" y="36.5" width="26.0" height="8.200000000000003" rx="5.2"/><polygon points="42.6,39.4 46.2,34.2 53.0,30.9 59.5,32.5 64.0,39.5 43.2,39.5"/></g></g>
<g transform="translate(1516.30 700)" clip-path="url(#ic)"><rect width="58.8" height="59" fill="#0b0c13"/><circle cx="19.8" cy="22" r="16" fill="url(#moong)"/><circle cx="19.12" cy="16.48" r="2.59" fill="#d6d69f"/><circle cx="24.98" cy="21.10" r="2.25" fill="#d6d69f"/><circle cx="7.97" cy="19.07" r="2.25" fill="#d6d69f"/><circle cx="16.98" cy="25.61" r="2.03" fill="#d6d69f"/><circle cx="18.67" cy="28.08" r="2.25" fill="#d6d69f"/><g fill="#9c9ea8"><ellipse cx="23.4" cy="30.2" rx="5.70" ry="5.70"/><ellipse cx="29.6" cy="22.6" rx="6.10" ry="6.10"/><ellipse cx="39.2" cy="18.2" rx="6.10" ry="6.10"/><ellipse cx="49.8" cy="20.8" rx="5.70" ry="5.70"/><ellipse cx="57.5" cy="24.5" rx="5.30" ry="5.30"/><rect x="18.9" y="26.5" width="45.6" height="10.600000000000001" rx="5.5"/></g><g fill="url(#cg0)"><ellipse cx="23.4" cy="30.2" rx="5.20" ry="5.20"/><ellipse cx="29.6" cy="22.6" rx="5.60" ry="5.60"/><ellipse cx="39.2" cy="18.2" rx="5.60" ry="5.60"/><ellipse cx="49.8" cy="20.8" rx="5.20" ry="5.20"/><ellipse cx="57.5" cy="24.5" rx="4.80" ry="4.80"/><rect x="19.4" y="27.0" width="44.6" height="9.600000000000001" rx="5"/><polygon points="23.4,30.2 29.6,22.6 39.2,18.2 49.8,20.8 57.5,24.5 64.0,31.6 24.4,31.6"/></g><g fill="#9c9ea8"><ellipse cx="28.8" cy="35.6" rx="5.70" ry="5.70"/><ellipse cx="34.6" cy="29.2" rx="5.50" ry="5.50"/><ellipse cx="42.8" cy="25.8" rx="5.50" ry="5.50"/><ellipse cx="50.5" cy="28.5" rx="4.90" ry="4.90"/><rect x="23.8" y="31.5" width="40.7" height="14.399999999999999" rx="6.0"/></g><g fill="url(#cg1)"><ellipse cx="28.8" cy="35.6" rx="5.20" ry="5.20"/><ellipse cx="34.6" cy="29.2" rx="5.00" ry="5.00"/><ellipse cx="42.8" cy="25.8" rx="5.00" ry="5.00"/><ellipse cx="50.5" cy="28.5" rx="4.40" ry="4.40"/><rect x="24.3" y="32.0" width="39.7" height="13.399999999999999" rx="5.5"/><polygon points="28.8,35.6 34.6,29.2 42.8,25.8 50.5,28.5 64.0,39.9 29.8,39.9"/></g><g fill="#9c9ea8"><ellipse cx="42.6" cy="39.4" rx="5.50" ry="5.50"/><ellipse cx="46.2" cy="34.2" rx="5.10" ry="5.10"/><ellipse cx="53.0" cy="30.9" rx="5.50" ry="5.50"/><ellipse cx="59.5" cy="32.5" rx="4.90" ry="4.90"/><rect x="37.5" y="36.0" width="27.0" height="9.200000000000003" rx="5.7"/></g><g fill="url(#cg2)"><ellipse cx="42.6" cy="39.4" rx="5.00" ry="5.00"/><ellipse cx="46.2" cy="34.2" rx="4.60" ry="4.60"/><ellipse cx="53.0" cy="30.9" rx="5.00" ry="5.00"/><ellipse cx="59.5" cy="32.5" rx="4.40" ry="4.40"/><rect x="38.0" y="36.5" width="26.0" height="8.200000000000003" rx="5.2"/><polygon points="42.6,39.4 46.2,34.2 53.0,30.9 59.5,32.5 64.0,39.5 43.2,39.5"/></g></g>
<g transform="translate(1576.20 700)" clip-path="url(#ic)"><rect width="58.8" height="59" fill="url(#ovc)"/><g fill="#9c9ea8"><ellipse cx="-2" cy="12.5" rx="5.00" ry="4.10"/><ellipse cx="3.0" cy="11.6" rx="5.25" ry="4.30"/><ellipse cx="12.4" cy="8.2" rx="6.75" ry="5.50"/><ellipse cx="22.3" cy="11.4" rx="5.75" ry="4.70"/><ellipse cx="28.5" cy="14.2" rx="4.25" ry="3.50"/><rect x="-6.5" y="10.0" width="39" height="10.5" rx="4.5"/></g><g fill="url(#cg3)"><ellipse cx="-2" cy="12.5" rx="4.50" ry="3.60"/><ellipse cx="3.0" cy="11.6" rx="4.75" ry="3.80"/><ellipse cx="12.4" cy="8.2" rx="6.25" ry="5.00"/><ellipse cx="22.3" cy="11.4" rx="5.25" ry="4.20"/><ellipse cx="28.5" cy="14.2" rx="3.75" ry="3.00"/><rect x="-6" y="10.5" width="38" height="9.5" rx="4"/><polygon points="-2,12.5 3.0,11.6 12.4,8.2 22.3,11.4 28.5,14.2 32,16 -2,16"/></g><g fill="#9c9ea8"><ellipse cx="40.5" cy="13.0" rx="4.25" ry="3.50"/><ellipse cx="46.8" cy="10.6" rx="5.25" ry="4.30"/><ellipse cx="56" cy="8.0" rx="6.50" ry="5.30"/><ellipse cx="62" cy="10" rx="5.00" ry="4.10"/><rect x="37.0" y="10.0" width="29.5" height="10.5" rx="4.5"/></g><g fill="url(#cg3)"><ellipse cx="40.5" cy="13.0" rx="3.75" ry="3.00"/><ellipse cx="46.8" cy="10.6" rx="4.75" ry="3.80"/><ellipse cx="56" cy="8.0" rx="6.00" ry="4.80"/><ellipse cx="62" cy="10" rx="4.50" ry="3.60"/><rect x="37.5" y="10.5" width="28.5" height="9.5" rx="4"/><polygon points="40.5,13.0 46.8,10.6 56,8.0 62,10 66,16 41.5,16"/></g><g fill="#9c9ea8"><ellipse cx="-1" cy="20.5" rx="5.50" ry="4.50"/><ellipse cx="7.2" cy="17.2" rx="6.75" ry="5.50"/><ellipse cx="17.5" cy="19.0" rx="6.00" ry="4.90"/><ellipse cx="24.5" cy="21.4" rx="4.75" ry="3.90"/><rect x="-6.5" y="18.0" width="35" height="12.899999999999999" rx="5.5"/></g><g fill="url(#cg4)"><ellipse cx="-1" cy="20.5" rx="5.00" ry="4.00"/><ellipse cx="7.2" cy="17.2" rx="6.25" ry="5.00"/><ellipse cx="17.5" cy="19.0" rx="5.50" ry="4.40"/><ellipse cx="24.5" cy="21.4" rx="4.25" ry="3.40"/><rect x="-6" y="18.5" width="34" height="11.899999999999999" rx="5"/><polygon points="-1,20.5 7.2,17.2 17.5,19.0 24.5,21.4 28,25.4 -1,25.4"/></g><g fill="#9c9ea8"><ellipse cx="30.5" cy="17.6" rx="5.50" ry="4.50"/><ellipse cx="38.5" cy="13.2" rx="7.25" ry="5.90"/><ellipse cx="48.5" cy="16.8" rx="6.50" ry="5.30"/><ellipse cx="56.5" cy="19.0" rx="5.75" ry="4.70"/><rect x="25.5" y="15.0" width="41" height="12.100000000000001" rx="5.5"/></g><g fill="url(#cg5)"><ellipse cx="30.5" cy="17.6" rx="5.00" ry="4.00"/><ellipse cx="38.5" cy="13.2" rx="6.75" ry="5.40"/><ellipse cx="48.5" cy="16.8" rx="6.00" ry="4.80"/><ellipse cx="56.5" cy="19.0" rx="5.25" ry="4.20"/><rect x="26" y="15.5" width="40" height="11.100000000000001" rx="5"/><polygon points="30.5,17.6 38.5,13.2 48.5,16.8 56.5,19.0 66,21.6 31,21.6"/></g><g fill="#9c9ea8"><ellipse cx="9.6" cy="30.6" rx="6.25" ry="5.10"/><ellipse cx="17.5" cy="25.4" rx="6.50" ry="5.30"/><ellipse cx="29" cy="23.2" rx="7.25" ry="5.90"/><ellipse cx="39.6" cy="26.0" rx="6.25" ry="5.10"/><ellipse cx="46.4" cy="30.8" rx="6.00" ry="4.90"/><rect x="3.8" y="26.0" width="47.900000000000006" height="11.299999999999997" rx="6.1"/></g><g fill="url(#cg6)"><ellipse cx="9.6" cy="30.6" rx="5.75" ry="4.60"/><ellipse cx="17.5" cy="25.4" rx="6.00" ry="4.80"/><ellipse cx="29" cy="23.2" rx="6.75" ry="5.40"/><ellipse cx="39.6" cy="26.0" rx="5.75" ry="4.60"/><ellipse cx="46.4" cy="30.8" rx="5.50" ry="4.40"/><rect x="4.3" y="26.5" width="46.900000000000006" height="10.299999999999997" rx="5.6"/><polygon points="9.6,30.6 17.5,25.4 29,23.2 39.6,26.0 46.4,30.8 51.2,31.199999999999996 9.899999999999999,31.199999999999996"/></g></g>
<g transform="translate(1636.05 700)" clip-path="url(#ic)"><rect width="58.8" height="59" fill="url(#ovc)"/><g fill="#9c9ea8"><ellipse cx="-2" cy="12.5" rx="5.00" ry="4.10"/><ellipse cx="3.0" cy="11.6" rx="5.25" ry="4.30"/><ellipse cx="12.4" cy="8.2" rx="6.75" ry="5.50"/><ellipse cx="22.3" cy="11.4" rx="5.75" ry="4.70"/><ellipse cx="28.5" cy="14.2" rx="4.25" ry="3.50"/><rect x="-6.5" y="10.0" width="39" height="10.5" rx="4.5"/></g><g fill="url(#cg3)"><ellipse cx="-2" cy="12.5" rx="4.50" ry="3.60"/><ellipse cx="3.0" cy="11.6" rx="4.75" ry="3.80"/><ellipse cx="12.4" cy="8.2" rx="6.25" ry="5.00"/><ellipse cx="22.3" cy="11.4" rx="5.25" ry="4.20"/><ellipse cx="28.5" cy="14.2" rx="3.75" ry="3.00"/><rect x="-6" y="10.5" width="38" height="9.5" rx="4"/><polygon points="-2,12.5 3.0,11.6 12.4,8.2 22.3,11.4 28.5,14.2 32,16 -2,16"/></g><g fill="#9c9ea8"><ellipse cx="40.5" cy="13.0" rx="4.25" ry="3.50"/><ellipse cx="46.8" cy="10.6" rx="5.25" ry="4.30"/><ellipse cx="56" cy="8.0" rx="6.50" ry="5.30"/><ellipse cx="62" cy="10" rx="5.00" ry="4.10"/><rect x="37.0" y="10.0" width="29.5" height="10.5" rx="4.5"/></g><g fill="url(#cg3)"><ellipse cx="40.5" cy="13.0" rx="3.75" ry="3.00"/><ellipse cx="46.8" cy="10.6" rx="4.75" ry="3.80"/><ellipse cx="56" cy="8.0" rx="6.00" ry="4.80"/><ellipse cx="62" cy="10" rx="4.50" ry="3.60"/><rect x="37.5" y="10.5" width="28.5" height="9.5" rx="4"/><polygon points="40.5,13.0 46.8,10.6 56,8.0 62,10 66,16 41.5,16"/></g><g fill="#9c9ea8"><ellipse cx="-1" cy="20.5" rx="5.50" ry="4.50"/><ellipse cx="7.2" cy="17.2" rx="6.75" ry="5.50"/><ellipse cx="17.5" cy="19.0" rx="6.00" ry="4.90"/><ellipse cx="24.5" cy="21.4" rx="4.75" ry="3.90"/><rect x="-6.5" y="18.0" width="35" height="12.899999999999999" rx="5.5"/></g><g fill="url(#cg4)"><ellipse cx="-1" cy="20.5" rx="5.00" ry="4.00"/><ellipse cx="7.2" cy="17.2" rx="6.25" ry="5.00"/><ellipse cx="17.5" cy="19.0" rx="5.50" ry="4.40"/><ellipse cx="24.5" cy="21.4" rx="4.25" ry="3.40"/><rect x="-6" y="18.5" width="34" height="11.899999999999999" rx="5"/><polygon points="-1,20.5 7.2,17.2 17.5,19.0 24.5,21.4 28,25.4 -1,25.4"/></g><g fill="#9c9ea8"><ellipse cx="30.5" cy="17.6" rx="5.50" ry="4.50"/><ellipse cx="38.5" cy="13.2" rx="7.25" ry="5.90"/><ellipse cx="48.5" cy="16.8" rx="6.50" ry="5.30"/><ellipse cx="56.5" cy="19.0" rx="5.75" ry="4.70"/><rect x="25.5" y="15.0" width="41" height="12.100000000000001" rx="5.5"/></g><g fill="url(#cg5)"><ellipse cx="30.5" cy="17.6" rx="5.00" ry="4.00"/><ellipse cx="38.5" cy="13.2" rx="6.75" ry="5.40"/><ellipse cx="48.5" cy="16.8" rx="6.00" ry="4.80"/><ellipse cx="56.5" cy="19.0" rx="5.25" ry="4.20"/><rect x="26" y="15.5" width="40" height="11.100000000000001" rx="5"/><polygon points="30.5,17.6 38.5,13.2 48.5,16.8 56.5,19.0 66,21.6 31,21.6"/></g><g fill="#9c9ea8"><ellipse cx="9.6" cy="30.6" rx="6.25" ry="5.10"/><ellipse cx="17.5" cy="25.4" rx="6.50" ry="5.30"/><ellipse cx="29" cy="23.2" rx="7.25" ry="5.90"/><ellipse cx="39.6" cy="26.0" rx="6.25" ry="5.10"/><ellipse cx="46.4" cy="30.8" rx="6.00" ry="4.90"/><rect x="3.8" y="26.0" width="47.900000000000006" height="11.299999999999997" rx="6.1"/></g><g fill="url(#cg6)"><ellipse cx="9.6" cy="30.6" rx="5.75" ry="4.60"/><ellipse cx="17.5" cy="25.4" rx="6.00" ry="4.80"/><ellipse cx="29" cy="23.2" rx="6.75" ry="5.40"/><ellipse cx="39.6" cy="26.0" rx="5.75" ry="4.60"/><ellipse cx="46.4" cy="30.8" rx="5.50" ry="4.40"/><rect x="4.3" y="26.5" width="46.900000000000006" height="10.299999999999997" rx="5.6"/><polygon points="9.6,30.6 17.5,25.4 29,23.2 39.6,26.0 46.4,30.8 51.2,31.199999999999996 9.899999999999999,31.199999999999996"/></g></g>
<g transform="translate(1696.15 700)" clip-path="url(#ic)"><rect width="58.8" height="59" fill="#0b0c13"/><circle cx="20" cy="22.1" r="14.2" fill="url(#moong)"/><circle cx="19.40" cy="17.20" r="2.30" fill="#d6d69f"/><circle cx="24.60" cy="21.30" r="2.00" fill="#d6d69f"/><circle cx="9.50" cy="19.50" r="2.00" fill="#d6d69f"/><circle cx="17.50" cy="25.30" r="1.80" fill="#d6d69f"/><circle cx="19.00" cy="27.50" r="2.00" fill="#d6d69f"/><circle cx="39" cy="8" r="1.15" fill="#8c8c84"/><circle cx="41" cy="20.6" r="1.15" fill="#8c8c84"/><circle cx="15.5" cy="45.6" r="1.15" fill="#8c8c84"/><circle cx="33.3" cy="49.6" r="1.15" fill="#8c8c84"/></g>
<rect x="1669.0" y="27" width="15.6" height="15.4" fill="#e8e8e8"/><rect x="1687.5" y="27" width="15.6" height="15.4" fill="#e8e8e8"/><rect x="1706.0" y="27" width="15.6" height="15.4" fill="#e8e8e8"/><path d="M1670.5 40Q1672.5 18 1675.0 35T1679.0 35T1683.0 40" fill="none" stroke="#f6f6f6" stroke-width="1"/><path d="M1690.0 33H1698.0V39M1695.0 36.5L1698.0 39.5L1701.0 36.5" fill="none" stroke="#f6f6f6" stroke-width="1.2"/><path d="M1709.5 40L1712.5 29.5H1714.5L1717.5 40Z" fill="#f6f6f6"/>
<clipPath id="wc"><rect x="70" y="760" width="1682" height="27"/></clipPath><g clip-path="url(#wc)">
<rect x="-86.6" y="766" width="15.6" height="15.4" fill="#e8e8e8"/><rect x="-68.1" y="766" width="15.6" height="15.4" fill="#e8e8e8"/><rect x="-49.6" y="766" width="15.6" height="15.4" fill="#e8e8e8"/><path d="M-85.1 779Q-83.1 757 -80.6 774T-76.6 774T-72.6 779" fill="none" stroke="#f6f6f6" stroke-width="1"/><path d="M-65.6 772H-57.6V778M-60.6 775.5L-57.6 778.5L-54.6 775.5" fill="none" stroke="#f6f6f6" stroke-width="1.2"/><path d="M-46.1 779L-43.1 768.5H-41.1L-38.1 779Z" fill="#f6f6f6"/>
<rect x="253.4" y="766" width="15.6" height="15.4" fill="#e8e8e8"/><rect x="271.9" y="766" width="15.6" height="15.4" fill="#e8e8e8"/><rect x="290.4" y="766" width="15.6" height="15.4" fill="#e8e8e8"/><path d="M254.9 779Q256.9 757 259.4 774T263.4 774T267.4 779" fill="none" stroke="#f6f6f6" stroke-width="1"/><path d="M274.4 772H282.4V778M279.4 775.5L282.4 778.5L285.4 775.5" fill="none" stroke="#f6f6f6" stroke-width="1.2"/><path d="M293.9 779L296.9 768.5H298.9L301.9 779Z" fill="#f6f6f6"/>
<rect x="593.4" y="766" width="15.6" height="15.4" fill="#e8e8e8"/><rect x="611.9" y="766" width="15.6" height="15.4" fill="#e8e8e8"/><rect x="630.4" y="766" width="15.6" height="15.4" fill="#e8e8e8"/><path d="M594.9 779Q596.9 757 599.4 774T603.4 774T607.4 779" fill="none" stroke="#f6f6f6" stroke-width="1"/><path d="M614.4 772H622.4V778M619.4 775.5L622.4 778.5L625.4 775.5" fill="none" stroke="#f6f6f6" stroke-width="1.2"/><path d="M633.9 779L636.9 768.5H638.9L641.9 779Z" fill="#f6f6f6"/>
<rect x="933.4" y="766" width="15.6" height="15.4" fill="#e8e8e8"/><rect x="951.9" y="766" width="15.6" height="15.4" fill="#e8e8e8"/><rect x="970.4" y="766" width="15.6" height="15.4" fill="#e8e8e8"/><path d="M934.9 779Q936.9 757 939.4 774T943.4 774T947.4 779" fill="none" stroke="#f6f6f6" stroke-width="1"/><path d="M954.4 772H962.4V778M959.4 775.5L962.4 778.5L965.4 775.5" fill="none" stroke="#f6f6f6" stroke-width="1.2"/><path d="M973.9 779L976.9 768.5H978.9L981.9 779Z" fill="#f6f6f6"/>
<rect x="1273.4" y="766" width="15.6" height="15.4" fill="#e8e8e8"/><rect x="1291.9" y="766" width="15.6" height="15.4" fill="#e8e8e8"/><rect x="1310.4" y="766" width="15.6" height="15.4" fill="#e8e8e8"/><path d="M1274.9 779Q1276.9 757 1279.4 774T1283.4 774T1287.4 779" fill="none" stroke="#f6f6f6" stroke-width="1"/><path d="M1294.4 772H1302.4V778M1299.4 775.5L1302.4 778.5L1305.4 775.5" fill="none" stroke="#f6f6f6" stroke-width="1.2"/><path d="M1313.9 779L1316.9 768.5H1318.9L1321.9 779Z" fill="#f6f6f6"/>
<rect x="1613.4" y="766" width="15.6" height="15.4" fill="#e8e8e8"/><rect x="1631.9" y="766" width="15.6" height="15.4" fill="#e8e8e8"/><rect x="1650.4" y="766" width="15.6" height="15.4" fill="#e8e8e8"/><path d="M1614.9 779Q1616.9 757 1619.4 774T1623.4 774T1627.4 779" fill="none" stroke="#f6f6f6" stroke-width="1"/><path d="M1634.4 772H1642.4V778M1639.4 775.5L1642.4 778.5L1645.4 775.5" fill="none" stroke="#f6f6f6" stroke-width="1.2"/><path d="M1653.9 779L1656.9 768.5H1658.9L1661.9 779Z" fill="#f6f6f6"/>
</g>
</svg>
<h1 style="margin:0;font:inherit"><span class="t" style="left:20.10px;top:13.43px;width:400px;text-align:left;font-size:36.0px;line-height:47px;color:#37597a;font-weight:700;letter-spacing:0.3px;transform:scale(1,1.115);transform-origin:50% 35.97px;word-spacing:-2.5px;">Ulsan, South Korea, Tide Times.</span><span class="t" style="left:578.10px;top:13.14px;width:400px;text-align:left;font-size:37.11px;line-height:48px;color:#2f2f2f;transform:scale(1,1.071);transform-origin:50% 36.86px;">Times are KST (UTC+09:00)</span></h1>
<div class="t" style="left:-10.00px;top:76.00px;width:400px;text-align:center;font-size:12.7px;line-height:17px;color:#fff;font-weight:700;">Friday, 26 Dec</div>
<div class="t" style="left:-70.05px;top:100.93px;width:400px;text-align:center;font-size:13.2px;line-height:17px;color:#222;">AM</div>
<div class="t" style="left:50.45px;top:100.93px;width:400px;text-align:center;font-size:13.2px;line-height:17px;color:#222;">PM</div>
<div class="t" style="left:232.00px;top:76.00px;width:400px;text-align:center;font-size:12.7px;line-height:17px;color:#fff;font-weight:700;">Saturday, 27 Dec</div>
<div class="t" style="left:171.50px;top:100.93px;width:400px;text-align:center;font-size:13.2px;line-height:17px;color:#222;">AM</div>
<div class="t" style="left:293.00px;top:100.93px;width:400px;text-align:center;font-size:13.2px;line-height:17px;color:#222;">PM</div>
<div class="t" style="left:473.50px;top:76.00px;width:400px;text-align:center;font-size:12.7px;line-height:17px;color:#fff;font-weight:700;">Sunday, 28 Dec</div>
<div class="t" style="left:413.50px;top:100.93px;width:400px;text-align:center;font-size:13.2px;line-height:17px;color:#222;">AM</div>
<div class="t" style="left:533.50px;top:100.93px;width:400px;text-align:center;font-size:13.2px;line-height:17px;color:#222;">PM</div>
<div class="t" style="left:713.50px;top:76.00px;width:400px;text-align:center;font-size:12.7px;line-height:17px;color:#fff;font-weight:700;">Monday, 29 Dec</div>
<div class="t" style="left:653.50px;top:100.93px;width:400px;text-align:center;font-size:13.2px;line-height:17px;color:#222;">AM</div>
<div class="t" style="left:773.50px;top:100.93px;width:400px;text-align:center;font-size:13.2px;line-height:17px;color:#222;">PM</div>
<div class="t" style="left:953.50px;top:76.00px;width:400px;text-align:center;font-size:12.7px;line-height:17px;color:#fff;font-weight:700;">Tuesday, 30 Dec</div>
<div class="t" style="left:893.50px;top:100.93px;width:400px;text-align:center;font-size:13.2px;line-height:17px;color:#222;">AM</div>
<div class="t" style="left:1013.50px;top:100.93px;width:400px;text-align:center;font-size:13.2px;line-height:17px;color:#222;">PM</div>
<div class="t" style="left:1194.50px;top:76.00px;width:400px;text-align:center;font-size:12.7px;line-height:17px;color:#fff;font-weight:700;">Wednesday, 31 Dec</div>
<div class="t" style="left:1134.20px;top:100.93px;width:400px;text-align:center;font-size:13.2px;line-height:17px;color:#222;">AM</div>
<div class="t" style="left:1255.20px;top:100.93px;width:400px;text-align:center;font-size:13.2px;line-height:17px;color:#222;">PM</div>
<div class="t" style="left:1435.50px;top:76.00px;width:400px;text-align:center;font-size:12.7px;line-height:17px;color:#fff;font-weight:700;">Thursday, 1 Jan</div>
<div class="t" style="left:1375.40px;top:100.93px;width:400px;text-align:center;font-size:13.2px;line-height:17px;color:#222;">AM</div>
<div class="t" style="left:1495.40px;top:100.93px;width:400px;text-align:center;font-size:13.2px;line-height:17px;color:#222;">PM</div>
<div class="b" style="left:0;top:120px;width:69px;height:287px;overflow:hidden">
<div class="t" style="left:-333.40px;top:-9.58px;width:400px;text-align:right;font-size:12.35px;line-height:16px;color:#1c1c1c;letter-spacing:-0.09px;">0.73m (2.38ft)</div>
<div class="t" style="left:-333.40px;top:21.68px;width:400px;text-align:right;font-size:12.35px;line-height:16px;color:#1c1c1c;letter-spacing:-0.01px;">0.63m (2.07ft)</div>
<div class="t" style="left:-333.40px;top:52.94px;width:400px;text-align:right;font-size:12.35px;line-height:16px;color:#1c1c1c;letter-spacing:-0.19px;">0.54m (1.76ft)</div>
<div class="t" style="left:-333.40px;top:84.20px;width:400px;text-align:right;font-size:12.35px;line-height:16px;color:#1c1c1c;letter-spacing:-0.08px;">0.44m (1.45ft)</div>
<div class="t" style="left:-333.40px;top:115.46px;width:400px;text-align:right;font-size:12.35px;line-height:16px;color:#1c1c1c;letter-spacing:-0.37px;">0.35m (1.14ft)</div>
<div class="t" style="left:-333.40px;top:146.72px;width:400px;text-align:right;font-size:12.35px;line-height:16px;color:#1c1c1c;letter-spacing:-0.02px;">0.25m (0.83ft)</div>
<div class="t" style="left:-333.40px;top:177.98px;width:400px;text-align:right;font-size:12.35px;line-height:16px;color:#1c1c1c;letter-spacing:-0.16px;">0.16m (0.52ft)</div>
<div class="t" style="left:-333.40px;top:209.24px;width:400px;text-align:right;font-size:12.35px;line-height:16px;color:#1c1c1c;letter-spacing:-0.1px;">0.06m (0.21ft)</div>
<div class="t" style="left:-333.40px;top:240.50px;width:400px;text-align:right;font-size:12.35px;line-height:16px;color:#1c1c1c;letter-spacing:0.01px;">-0.03m (-0.1ft)</div>
<div class="t" style="left:-333.40px;top:271.76px;width:400px;text-align:right;font-size:12.35px;line-height:16px;color:#1c1c1c;letter-spacing:-0.12px;">-0.13m (-0.41ft)</div>
</div>
<div class="t" style="left:-165.20px;top:420.88px;width:400px;text-align:center;font-size:14.2px;line-height:18px;color:#4a80b8;font-weight:700;letter-spacing:0.3px;text-indent:0.3px;">HIGH</div>
<div class="t" style="left:-165.20px;top:437.82px;width:400px;text-align:center;font-size:13.8px;line-height:18px;color:#444;">(KST)</div>
<div class="t" style="left:-165.20px;top:479.68px;width:400px;text-align:center;font-size:14.2px;line-height:18px;color:#0f8896;font-weight:700;letter-spacing:0.3px;text-indent:0.3px;">LOW</div>
<div class="t" style="left:-165.20px;top:496.52px;width:400px;text-align:center;font-size:13.8px;line-height:18px;color:#444;">(KST)</div>
<div class="t" style="left:-165.40px;top:541.88px;width:400px;text-align:center;font-size:14.2px;line-height:18px;color:#333;letter-spacing:0.3px;text-indent:0.3px;">Sun</div>
<div class="t" style="left:-165.40px;top:584.08px;width:400px;text-align:center;font-size:14.2px;line-height:18px;color:#333;letter-spacing:0.35px;text-indent:0.35px;">Moon</div>
<div class="t" style="left:-165.20px;top:612.08px;width:400px;text-align:center;font-size:14.2px;line-height:18px;color:#333;letter-spacing:0.3px;text-indent:0.3px;">Set</div>
<div class="t" style="left:-165.40px;top:632.08px;width:400px;text-align:center;font-size:14.2px;line-height:18px;color:#333;letter-spacing:0.3px;text-indent:0.3px;">Rise</div>
<div class="t" style="left:-165.20px;top:658.58px;width:400px;text-align:center;font-size:14.2px;line-height:18px;color:#333;letter-spacing:0.3px;text-indent:0.3px;">Wind</div>
<div class="t" style="left:-165.50px;top:674.68px;width:400px;text-align:center;font-size:14.2px;line-height:18px;color:#222;letter-spacing:0.2px;text-indent:0.2px;">(<a href="#">km/h</a>)</div>
<div class="t" style="left:-39.65px;top:415.00px;width:400px;text-align:center;font-size:13px;line-height:17px;color:#4a80b8;font-weight:700;letter-spacing:-1.0px;text-indent:-1.0px;">11:16AM</div>
<div class="t" style="left:-39.65px;top:429.67px;width:400px;text-align:center;font-size:12.5px;line-height:16px;color:#3a3a3a;letter-spacing:0.38px;text-indent:0.38px;">0.40m</div>
<div class="t" style="left:-39.65px;top:442.87px;width:400px;text-align:center;font-size:12.5px;line-height:16px;color:#3a3a3a;letter-spacing:-0.71px;text-indent:-0.71px;">(1.31ft)</div>
<div class="t" style="left:141.40px;top:415.00px;width:400px;text-align:center;font-size:13px;line-height:17px;color:#4a80b8;font-weight:700;letter-spacing:-0.12px;text-indent:-0.12px;">00:21AM</div>
<div class="t" style="left:141.40px;top:429.67px;width:400px;text-align:center;font-size:12.5px;line-height:16px;color:#3a3a3a;letter-spacing:0.01px;text-indent:0.01px;">0.39m</div>
<div class="t" style="left:141.40px;top:442.87px;width:400px;text-align:center;font-size:12.5px;line-height:16px;color:#3a3a3a;letter-spacing:-0.33px;text-indent:-0.33px;">(1.28ft)</div>
<div class="t" style="left:262.85px;top:415.00px;width:400px;text-align:center;font-size:13px;line-height:17px;color:#4a80b8;font-weight:700;letter-spacing:-0.14px;text-indent:-0.14px;">12:08PM</div>
<div class="t" style="left:262.85px;top:429.67px;width:400px;text-align:center;font-size:12.5px;line-height:16px;color:#3a3a3a;letter-spacing:-0.09px;text-indent:-0.09px;">0.37m</div>
<div class="t" style="left:262.85px;top:442.87px;width:400px;text-align:center;font-size:12.5px;line-height:16px;color:#3a3a3a;letter-spacing:-0.68px;text-indent:-0.68px;">(1.21ft)</div>
<div class="t" style="left:383.45px;top:415.00px;width:400px;text-align:center;font-size:13px;line-height:17px;color:#4a80b8;font-weight:700;letter-spacing:-1.2px;text-indent:-1.2px;">1:11AM</div>
<div class="t" style="left:383.45px;top:429.67px;width:400px;text-align:center;font-size:12.5px;line-height:16px;color:#3a3a3a;letter-spacing:0.05px;text-indent:0.05px;">0.38m</div>
<div class="t" style="left:383.45px;top:442.87px;width:400px;text-align:center;font-size:12.5px;line-height:16px;color:#3a3a3a;letter-spacing:-0.39px;text-indent:-0.39px;">(1.25ft)</div>
<div class="t" style="left:503.50px;top:415.00px;width:400px;text-align:center;font-size:13px;line-height:17px;color:#4a80b8;font-weight:700;letter-spacing:-1.08px;text-indent:-1.08px;">1:15PM</div>
<div class="t" style="left:503.50px;top:429.67px;width:400px;text-align:center;font-size:12.5px;line-height:16px;color:#3a3a3a;letter-spacing:-0.06px;text-indent:-0.06px;">0.35m</div>
<div class="t" style="left:503.50px;top:442.87px;width:400px;text-align:center;font-size:12.5px;line-height:16px;color:#3a3a3a;letter-spacing:-0.73px;text-indent:-0.73px;">(1.15ft)</div>
<div class="t" style="left:623.45px;top:415.00px;width:400px;text-align:center;font-size:13px;line-height:17px;color:#4a80b8;font-weight:700;letter-spacing:-0.33px;text-indent:-0.33px;">2:10AM</div>
<div class="t" style="left:623.45px;top:429.67px;width:400px;text-align:center;font-size:12.5px;line-height:16px;color:#3a3a3a;letter-spacing:-0.09px;text-indent:-0.09px;">0.37m</div>
<div class="t" style="left:623.45px;top:442.87px;width:400px;text-align:center;font-size:12.5px;line-height:16px;color:#3a3a3a;letter-spacing:-0.47px;text-indent:-0.47px;">(1.2ft)</div>
<div class="t" style="left:743.50px;top:415.00px;width:400px;text-align:center;font-size:13px;line-height:17px;color:#4a80b8;font-weight:700;letter-spacing:-0.39px;text-indent:-0.39px;">2:41PM</div>
<div class="t" style="left:743.50px;top:429.67px;width:400px;text-align:center;font-size:12.5px;line-height:16px;color:#3a3a3a;letter-spacing:0.2px;text-indent:0.2px;">0.34m</div>
<div class="t" style="left:743.50px;top:442.87px;width:400px;text-align:center;font-size:12.5px;line-height:16px;color:#3a3a3a;letter-spacing:-0.68px;text-indent:-0.68px;">(1.12ft)</div>
<div class="t" style="left:863.45px;top:415.00px;width:400px;text-align:center;font-size:13px;line-height:17px;color:#4a80b8;font-weight:700;letter-spacing:-0.29px;text-indent:-0.29px;">3:18AM</div>
<div class="t" style="left:863.45px;top:429.67px;width:400px;text-align:center;font-size:12.5px;line-height:16px;color:#3a3a3a;letter-spacing:-0.09px;text-indent:-0.09px;">0.37m</div>
<div class="t" style="left:863.45px;top:442.87px;width:400px;text-align:center;font-size:12.5px;line-height:16px;color:#3a3a3a;letter-spacing:-0.68px;text-indent:-0.68px;">(1.21ft)</div>
<div class="t" style="left:983.50px;top:415.00px;width:400px;text-align:center;font-size:13px;line-height:17px;color:#4a80b8;font-weight:700;letter-spacing:-0.36px;text-indent:-0.36px;">4:19PM</div>
<div class="t" style="left:983.50px;top:429.67px;width:400px;text-align:center;font-size:12.5px;line-height:16px;color:#3a3a3a;letter-spacing:-0.06px;text-indent:-0.06px;">0.35m</div>
<div class="t" style="left:983.50px;top:442.87px;width:400px;text-align:center;font-size:12.5px;line-height:16px;color:#3a3a3a;letter-spacing:-0.73px;text-indent:-0.73px;">(1.15ft)</div>
<div class="t" style="left:1103.70px;top:415.00px;width:400px;text-align:center;font-size:13px;line-height:17px;color:#4a80b8;font-weight:700;letter-spacing:0.28px;text-indent:0.28px;">4:29AM</div>
<div class="t" style="left:1103.70px;top:429.67px;width:400px;text-align:center;font-size:12.5px;line-height:16px;color:#3a3a3a;letter-spacing:-0.09px;text-indent:-0.09px;">0.37m</div>
<div class="t" style="left:1103.70px;top:442.87px;width:400px;text-align:center;font-size:12.5px;line-height:16px;color:#3a3a3a;letter-spacing:-0.68px;text-indent:-0.68px;">(1.21ft)</div>
<div class="t" style="left:1225.10px;top:415.00px;width:400px;text-align:center;font-size:13px;line-height:17px;color:#4a80b8;font-weight:700;letter-spacing:-0.47px;text-indent:-0.47px;">5:41PM</div>
<div class="t" style="left:1225.10px;top:429.67px;width:400px;text-align:center;font-size:12.5px;line-height:16px;color:#3a3a3a;letter-spacing:0.01px;text-indent:0.01px;">0.39m</div>
<div class="t" style="left:1225.10px;top:442.87px;width:400px;text-align:center;font-size:12.5px;line-height:16px;color:#3a3a3a;letter-spacing:-0.33px;text-indent:-0.33px;">(1.28ft)</div>
<div class="t" style="left:1345.60px;top:415.00px;width:400px;text-align:center;font-size:13px;line-height:17px;color:#4a80b8;font-weight:700;letter-spacing:0.17px;text-indent:0.17px;">5:33AM</div>
<div class="t" style="left:1345.60px;top:429.67px;width:400px;text-align:center;font-size:12.5px;line-height:16px;color:#3a3a3a;letter-spacing:0.01px;text-indent:0.01px;">0.39m</div>
<div class="t" style="left:1345.60px;top:442.87px;width:400px;text-align:center;font-size:12.5px;line-height:16px;color:#3a3a3a;letter-spacing:-0.33px;text-indent:-0.33px;">(1.28ft)</div>
<div class="t" style="left:1525.45px;top:415.00px;width:400px;text-align:center;font-size:13px;line-height:17px;color:#4a80b8;font-weight:700;letter-spacing:0.12px;text-indent:0.12px;">6:45PM</div>
<div class="t" style="left:1525.45px;top:429.67px;width:400px;text-align:center;font-size:12.5px;line-height:16px;color:#3a3a3a;letter-spacing:0.24px;text-indent:0.24px;">0.42m</div>
<div class="t" style="left:1525.45px;top:442.87px;width:400px;text-align:center;font-size:12.5px;line-height:16px;color:#3a3a3a;letter-spacing:-0.35px;text-indent:-0.35px;">(1.38ft)</div>
<div class="t" style="left:-100.10px;top:474.00px;width:400px;text-align:center;font-size:13px;line-height:17px;color:#0f8896;font-weight:700;letter-spacing:0.17px;text-indent:0.17px;">4:56AM</div>
<div class="t" style="left:-100.10px;top:488.67px;width:400px;text-align:center;font-size:12.5px;line-height:16px;color:#3a3a3a;letter-spacing:-0.56px;text-indent:-0.56px;">0.13m</div>
<div class="t" style="left:-100.10px;top:501.87px;width:400px;text-align:center;font-size:12.5px;line-height:16px;color:#3a3a3a;letter-spacing:0.14px;text-indent:0.14px;">(0.43ft)</div>
<div class="t" style="left:20.40px;top:474.00px;width:400px;text-align:center;font-size:13px;line-height:17px;color:#0f8896;font-weight:700;letter-spacing:0.1px;text-indent:0.1px;">5:23PM</div>
<div class="t" style="left:20.40px;top:488.67px;width:400px;text-align:center;font-size:12.5px;line-height:16px;color:#3a3a3a;letter-spacing:0.17px;text-indent:0.17px;">0.03m</div>
<div class="t" style="left:20.40px;top:501.87px;width:400px;text-align:center;font-size:12.5px;line-height:16px;color:#3a3a3a;letter-spacing:-0.37px;text-indent:-0.37px;">(0.1ft)</div>
<div class="t" style="left:141.40px;top:474.00px;width:400px;text-align:center;font-size:13px;line-height:17px;color:#0f8896;font-weight:700;letter-spacing:-0.53px;text-indent:-0.53px;">5:51AM</div>
<div class="t" style="left:141.40px;top:488.67px;width:400px;text-align:center;font-size:12.5px;line-height:16px;color:#3a3a3a;letter-spacing:-0.35px;text-indent:-0.35px;">0.14m</div>
<div class="t" style="left:141.40px;top:501.87px;width:400px;text-align:center;font-size:12.5px;line-height:16px;color:#3a3a3a;letter-spacing:0.22px;text-indent:0.22px;">(0.46ft)</div>
<div class="t" style="left:323.35px;top:474.00px;width:400px;text-align:center;font-size:13px;line-height:17px;color:#0f8896;font-weight:700;letter-spacing:-0.35px;text-indent:-0.35px;">6:18PM</div>
<div class="t" style="left:323.35px;top:488.67px;width:400px;text-align:center;font-size:12.5px;line-height:16px;color:#3a3a3a;letter-spacing:0.31px;text-indent:0.31px;">0.06m</div>
<div class="t" style="left:323.35px;top:501.87px;width:400px;text-align:center;font-size:12.5px;line-height:16px;color:#3a3a3a;letter-spacing:0.02px;text-indent:0.02px;">(0.2ft)</div>
<div class="t" style="left:443.45px;top:474.00px;width:400px;text-align:center;font-size:13px;line-height:17px;color:#0f8896;font-weight:700;letter-spacing:0.18px;text-indent:0.18px;">6:59AM</div>
<div class="t" style="left:443.45px;top:488.67px;width:400px;text-align:center;font-size:12.5px;line-height:16px;color:#3a3a3a;letter-spacing:-0.35px;text-indent:-0.35px;">0.14m</div>
<div class="t" style="left:443.45px;top:501.87px;width:400px;text-align:center;font-size:12.5px;line-height:16px;color:#3a3a3a;letter-spacing:0.22px;text-indent:0.22px;">(0.46ft)</div>
<div class="t" style="left:563.50px;top:474.00px;width:400px;text-align:center;font-size:13px;line-height:17px;color:#0f8896;font-weight:700;letter-spacing:0.06px;text-indent:0.06px;">7:26PM</div>
<div class="t" style="left:563.50px;top:488.67px;width:400px;text-align:center;font-size:12.5px;line-height:16px;color:#3a3a3a;letter-spacing:0.19px;text-indent:0.19px;">0.09m</div>
<div class="t" style="left:563.50px;top:501.87px;width:400px;text-align:center;font-size:12.5px;line-height:16px;color:#3a3a3a;letter-spacing:-0.01px;text-indent:-0.01px;">(0.3ft)</div>
<div class="t" style="left:683.45px;top:474.00px;width:400px;text-align:center;font-size:13px;line-height:17px;color:#0f8896;font-weight:700;letter-spacing:0.3px;text-indent:0.3px;">8:20AM</div>
<div class="t" style="left:683.45px;top:488.67px;width:400px;text-align:center;font-size:12.5px;line-height:16px;color:#3a3a3a;letter-spacing:-0.52px;text-indent:-0.52px;">0.12m</div>
<div class="t" style="left:683.45px;top:501.87px;width:400px;text-align:center;font-size:12.5px;line-height:16px;color:#3a3a3a;letter-spacing:0.03px;text-indent:0.03px;">(0.39ft)</div>
<div class="t" style="left:803.50px;top:474.00px;width:400px;text-align:center;font-size:13px;line-height:17px;color:#0f8896;font-weight:700;letter-spacing:0.16px;text-indent:0.16px;">8:45PM</div>
<div class="t" style="left:803.50px;top:488.67px;width:400px;text-align:center;font-size:12.5px;line-height:16px;color:#3a3a3a;letter-spacing:-0.87px;text-indent:-0.87px;">0.11m</div>
<div class="t" style="left:803.50px;top:501.87px;width:400px;text-align:center;font-size:12.5px;line-height:16px;color:#3a3a3a;letter-spacing:0.1px;text-indent:0.1px;">(0.36ft)</div>
<div class="t" style="left:923.45px;top:474.00px;width:400px;text-align:center;font-size:13px;line-height:17px;color:#0f8896;font-weight:700;letter-spacing:0.28px;text-indent:0.28px;">9:36AM</div>
<div class="t" style="left:923.45px;top:488.67px;width:400px;text-align:center;font-size:12.5px;line-height:16px;color:#3a3a3a;letter-spacing:0.24px;text-indent:0.24px;">0.08m</div>
<div class="t" style="left:923.45px;top:501.87px;width:400px;text-align:center;font-size:12.5px;line-height:16px;color:#3a3a3a;letter-spacing:0.13px;text-indent:0.13px;">(0.26ft)</div>
<div class="t" style="left:1043.50px;top:474.00px;width:400px;text-align:center;font-size:13px;line-height:17px;color:#0f8896;font-weight:700;letter-spacing:-0.65px;text-indent:-0.65px;">10:01PM</div>
<div class="t" style="left:1043.50px;top:488.67px;width:400px;text-align:center;font-size:12.5px;line-height:16px;color:#3a3a3a;letter-spacing:-0.52px;text-indent:-0.52px;">0.12m</div>
<div class="t" style="left:1043.50px;top:501.87px;width:400px;text-align:center;font-size:12.5px;line-height:16px;color:#3a3a3a;letter-spacing:0.03px;text-indent:0.03px;">(0.39ft)</div>
<div class="t" style="left:1164.40px;top:474.00px;width:400px;text-align:center;font-size:13px;line-height:17px;color:#0f8896;font-weight:700;letter-spacing:-0.12px;text-indent:-0.12px;">10:42AM</div>
<div class="t" style="left:1164.40px;top:488.67px;width:400px;text-align:center;font-size:12.5px;line-height:16px;color:#3a3a3a;letter-spacing:0.38px;text-indent:0.38px;">0.04m</div>
<div class="t" style="left:1164.40px;top:501.87px;width:400px;text-align:center;font-size:12.5px;line-height:16px;color:#3a3a3a;letter-spacing:-0.29px;text-indent:-0.29px;">(0.13ft)</div>
<div class="t" style="left:1285.40px;top:474.00px;width:400px;text-align:center;font-size:13px;line-height:17px;color:#0f8896;font-weight:700;letter-spacing:-0.65px;text-indent:-0.65px;">11:07PM</div>
<div class="t" style="left:1285.40px;top:488.67px;width:400px;text-align:center;font-size:12.5px;line-height:16px;color:#3a3a3a;letter-spacing:-0.52px;text-indent:-0.52px;">0.12m</div>
<div class="t" style="left:1285.40px;top:501.87px;width:400px;text-align:center;font-size:12.5px;line-height:16px;color:#3a3a3a;letter-spacing:0.03px;text-indent:0.03px;">(0.39ft)</div>
<div class="t" style="left:1405.50px;top:474.00px;width:400px;text-align:center;font-size:13px;line-height:17px;color:#0f8896;font-weight:700;letter-spacing:-0.49px;text-indent:-0.49px;">11:39AM</div>
<div class="t" style="left:1405.50px;top:488.67px;width:400px;text-align:center;font-size:12.5px;line-height:16px;color:#3a3a3a;letter-spacing:-0.05px;text-indent:-0.05px;">-0.01m</div>
<div class="t" style="left:1405.50px;top:501.87px;width:400px;text-align:center;font-size:12.5px;line-height:16px;color:#3a3a3a;letter-spacing:0.27px;text-indent:0.27px;">(-0.03ft)</div>
<div class="t" style="left:-39.65px;top:552.67px;width:400px;text-align:center;font-size:12.5px;line-height:16px;color:#3a3a3a;letter-spacing:-0.06px;text-indent:-0.06px;">7:30AM</div>
<div class="t" style="left:20.40px;top:552.67px;width:400px;text-align:center;font-size:12.5px;line-height:16px;color:#3a3a3a;letter-spacing:-0.67px;text-indent:-0.67px;">5:15PM</div>
<div class="t" style="left:202.40px;top:552.67px;width:400px;text-align:center;font-size:12.5px;line-height:16px;color:#3a3a3a;letter-spacing:-0.06px;text-indent:-0.06px;">7:30AM</div>
<div class="t" style="left:262.85px;top:552.67px;width:400px;text-align:center;font-size:12.5px;line-height:16px;color:#3a3a3a;letter-spacing:-0.52px;text-indent:-0.52px;">5:16PM</div>
<div class="t" style="left:443.45px;top:552.67px;width:400px;text-align:center;font-size:12.5px;line-height:16px;color:#3a3a3a;letter-spacing:-0.06px;text-indent:-0.06px;">7:30AM</div>
<div class="t" style="left:503.50px;top:552.67px;width:400px;text-align:center;font-size:12.5px;line-height:16px;color:#3a3a3a;letter-spacing:-0.69px;text-indent:-0.69px;">5:17PM</div>
<div class="t" style="left:683.45px;top:552.67px;width:400px;text-align:center;font-size:12.5px;line-height:16px;color:#3a3a3a;letter-spacing:-0.64px;text-indent:-0.64px;">7:31AM</div>
<div class="t" style="left:743.50px;top:552.67px;width:400px;text-align:center;font-size:12.5px;line-height:16px;color:#3a3a3a;letter-spacing:-0.69px;text-indent:-0.69px;">5:17PM</div>
<div class="t" style="left:923.45px;top:552.67px;width:400px;text-align:center;font-size:12.5px;line-height:16px;color:#3a3a3a;letter-spacing:-0.64px;text-indent:-0.64px;">7:31AM</div>
<div class="t" style="left:983.50px;top:552.67px;width:400px;text-align:center;font-size:12.5px;line-height:16px;color:#3a3a3a;letter-spacing:-0.58px;text-indent:-0.58px;">5:18PM</div>
<div class="t" style="left:1164.40px;top:552.67px;width:400px;text-align:center;font-size:12.5px;line-height:16px;color:#3a3a3a;letter-spacing:-0.64px;text-indent:-0.64px;">7:31AM</div>
<div class="t" style="left:1225.10px;top:552.67px;width:400px;text-align:center;font-size:12.5px;line-height:16px;color:#3a3a3a;letter-spacing:-0.62px;text-indent:-0.62px;">5:19PM</div>
<div class="t" style="left:1405.50px;top:552.67px;width:400px;text-align:center;font-size:12.5px;line-height:16px;color:#3a3a3a;letter-spacing:-0.64px;text-indent:-0.64px;">7:31AM</div>
<div class="t" style="left:1465.35px;top:552.67px;width:400px;text-align:center;font-size:12.5px;line-height:16px;color:#3a3a3a;letter-spacing:-0.02px;text-indent:-0.02px;">5:20PM</div>
<div class="t" style="left:-39.65px;top:632.17px;width:400px;text-align:center;font-size:12.5px;line-height:16px;color:#3a3a3a;letter-spacing:-0.51px;text-indent:-0.51px;">11:20AM</div>
<div class="t" style="left:80.45px;top:632.17px;width:400px;text-align:center;font-size:12.5px;line-height:16px;color:#3a3a3a;letter-spacing:-1.04px;text-indent:-1.04px;">11:13PM</div>
<div class="t" style="left:202.40px;top:632.17px;width:400px;text-align:center;font-size:12.5px;line-height:16px;color:#3a3a3a;letter-spacing:-0.42px;text-indent:-0.42px;">11:46AM</div>
<div class="t" style="left:383.45px;top:632.17px;width:400px;text-align:center;font-size:12.5px;line-height:16px;color:#3a3a3a;letter-spacing:-0.16px;text-indent:-0.16px;">00:18AM</div>
<div class="t" style="left:503.50px;top:632.17px;width:400px;text-align:center;font-size:12.5px;line-height:16px;color:#3a3a3a;letter-spacing:-0.77px;text-indent:-0.77px;">12:12PM</div>
<div class="t" style="left:623.45px;top:632.17px;width:400px;text-align:center;font-size:12.5px;line-height:16px;color:#3a3a3a;letter-spacing:-0.38px;text-indent:-0.38px;">1:24AM</div>
<div class="t" style="left:743.50px;top:632.17px;width:400px;text-align:center;font-size:12.5px;line-height:16px;color:#3a3a3a;letter-spacing:-0.66px;text-indent:-0.66px;">12:41PM</div>
<div class="t" style="left:863.45px;top:632.17px;width:400px;text-align:center;font-size:12.5px;line-height:16px;color:#3a3a3a;letter-spacing:-0.15px;text-indent:-0.15px;">2:35AM</div>
<div class="t" style="left:983.50px;top:632.17px;width:400px;text-align:center;font-size:12.5px;line-height:16px;color:#3a3a3a;letter-spacing:-1.07px;text-indent:-1.07px;">1:15PM</div>
<div class="t" style="left:1103.70px;top:632.17px;width:400px;text-align:center;font-size:12.5px;line-height:16px;color:#3a3a3a;letter-spacing:0.04px;text-indent:0.04px;">3:49AM</div>
<div class="t" style="left:1225.10px;top:632.17px;width:400px;text-align:center;font-size:12.5px;line-height:16px;color:#3a3a3a;letter-spacing:-0.67px;text-indent:-0.67px;">1:55PM</div>
<div class="t" style="left:1345.60px;top:632.17px;width:400px;text-align:center;font-size:12.5px;line-height:16px;color:#3a3a3a;letter-spacing:-0.07px;text-indent:-0.07px;">5:05AM</div>
<div class="t" style="left:1465.35px;top:632.17px;width:400px;text-align:center;font-size:12.5px;line-height:16px;color:#3a3a3a;letter-spacing:0.15px;text-indent:0.15px;">2:46PM</div>
<div class="t wm" style="left:1442.00px;top:26.11px;width:400px;text-align:left;font-size:14.4px;line-height:19px;color:#e9e9e9;">Powered by Tide-Forecast.com</div>
<div class="b" style="left:70px;top:760px;width:1682px;height:27px;overflow:hidden">
<div class="t wm wb" style="left:-43.60px;top:3.91px;width:400px;text-align:left;font-size:14.4px;line-height:19px;color:#e9e9e9;">Powered by Tide-Forecast.com</div>
<div class="t wm wb" style="left:296.40px;top:3.91px;width:400px;text-align:left;font-size:14.4px;line-height:19px;color:#e9e9e9;">Powered by Tide-Forecast.com</div>
<div class="t wm wb" style="left:636.40px;top:3.91px;width:400px;text-align:left;font-size:14.4px;line-height:19px;color:#e9e9e9;">Powered by Tide-Forecast.com</div>
<div class="t wm wb" style="left:976.40px;top:3.91px;width:400px;text-align:left;font-size:14.4px;line-height:19px;color:#e9e9e9;">Powered by Tide-Forecast.com</div>
<div class="t wm wb" style="left:1316.40px;top:3.91px;width:400px;text-align:left;font-size:14.4px;line-height:19px;color:#e9e9e9;">Powered by Tide-Forecast.com</div>
<div class="t wm wb" style="left:1656.40px;top:3.91px;width:400px;text-align:left;font-size:14.4px;line-height:19px;color:#e9e9e9;">Powered by Tide-Forecast.com</div>
</div>
</div></body></html>
